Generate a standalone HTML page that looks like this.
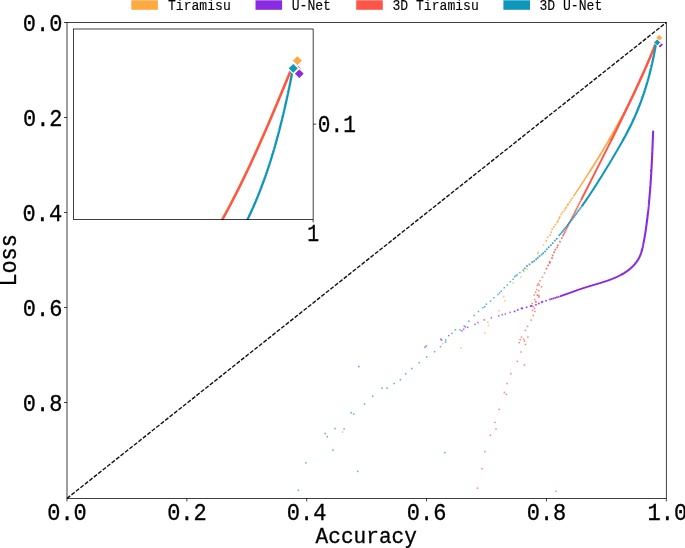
<!DOCTYPE html>
<html><head><meta charset="utf-8"><style>
html,body{margin:0;padding:0;background:#fff;overflow:hidden}
svg{display:block;will-change:transform}
</style></head><body>
<svg width="685" height="548" viewBox="0 0 685 548">
<rect width="685" height="548" fill="#fff"/>
<rect x="131.3" y="0.3" width="26.6" height="9.5" fill="#ffa940"/>
<text font-family="Liberation Mono, monospace" font-size="13.1" fill="#000" stroke="#000" stroke-width="0.100" transform="translate(167.91,9.90) scale(1.0000,1.1000)">Tiramisu</text>
<rect x="255.5" y="0.3" width="26.6" height="9.5" fill="#8a2be2"/>
<text font-family="Liberation Mono, monospace" font-size="13.1" fill="#000" stroke="#000" stroke-width="0.100" transform="translate(291.69,9.90) scale(1.0000,1.1000)">U-Net</text>
<rect x="356.2" y="0.3" width="26.6" height="9.5" fill="#ff5548"/>
<text font-family="Liberation Mono, monospace" font-size="13.1" fill="#000" stroke="#000" stroke-width="0.100" transform="translate(392.38,9.90) scale(1.0000,1.1000)">3D Tiramisu</text>
<rect x="503.4" y="0.3" width="26.6" height="9.5" fill="#0f97bb"/>
<text font-family="Liberation Mono, monospace" font-size="13.1" fill="#000" stroke="#000" stroke-width="0.100" transform="translate(539.38,9.90) scale(1.0000,1.1000)">3D U-Net</text>
<line x1="67.0" y1="498.4" x2="666.3" y2="22.5" stroke="#111" stroke-width="1.4" stroke-dasharray="4.1 1.6"/>
<path d="M654.97,44.37 L654.90,44.57 L654.83,44.76 L654.76,44.95 L654.69,45.15 L654.62,45.34 L654.55,45.53 L654.48,45.73 L654.40,45.92 L654.33,46.11 L654.26,46.31 L654.19,46.50 L654.12,46.69 L654.05,46.88 L653.98,47.08 L653.91,47.27 L653.83,47.46 L653.76,47.66 L653.69,47.85 L653.62,48.04 L653.55,48.23 L653.47,48.43 L653.40,48.62 L653.33,48.81 L653.26,49.00 L653.19,49.20 L653.11,49.39 L653.04,49.58 L652.97,49.77 L652.90,49.96 L652.82,50.16 L652.75,50.35 L652.68,50.54 L652.60,50.73 L652.53,50.92 L652.46,51.12 L652.38,51.31 L652.31,51.50 L652.24,51.69 L652.16,51.88 L652.09,52.08 L652.02,52.27 L651.94,52.46 L651.87,52.65 L651.80,52.84 L651.72,53.03 L651.65,53.23 L651.57,53.42 L651.50,53.61 L651.43,53.80 L651.35,53.99 L651.28,54.18 L651.20,54.37 L651.13,54.56 L651.05,54.76 L650.98,54.95 L650.90,55.14 L650.83,55.33 L650.75,55.52 L650.68,55.71 L650.60,55.90 L650.53,56.09 L650.45,56.28 L650.38,56.47 L650.30,56.67 L650.23,56.86 L650.15,57.05 L650.07,57.24 L650.00,57.43 L649.92,57.62 L649.85,57.81 L649.77,58.00 L649.70,58.19 L649.62,58.38 L649.54,58.57 L649.47,58.76 L649.39,58.95 L649.31,59.14 L649.24,59.33 L649.16,59.52 L649.08,59.71 L649.01,59.90 L648.93,60.09 L648.85,60.28 L648.78,60.47 L648.70,60.66 L648.62,60.85 L648.55,61.04 L648.47,61.23 L648.39,61.42 L648.31,61.61 L648.24,61.80 L648.16,61.99 L648.08,62.18 L648.00,62.37 L647.93,62.56 L647.85,62.75 L647.77,62.94 L647.69,63.13 L647.61,63.32 L647.54,63.51 L647.46,63.70 L647.38,63.89 L647.30,64.08 L647.22,64.26 L647.14,64.45 L647.06,64.64 L646.99,64.83 L646.91,65.02 L646.83,65.21 L646.75,65.40 L646.67,65.59 L646.59,65.78 L646.51,65.97 L646.43,66.15 L646.35,66.34 L646.27,66.53 L646.19,66.72 L646.12,66.91 L646.04,67.10 L645.96,67.29 L645.88,67.48 L645.80,67.66 L645.72,67.85 L645.64,68.04 L645.56,68.23 L645.48,68.42 L645.40,68.61 L645.32,68.79 L645.24,68.98 L645.16,69.17 L645.08,69.36 L644.99,69.55 L644.91,69.74 L644.83,69.92 L644.75,70.11 L644.67,70.30 L644.59,70.49 L644.51,70.68 L644.43,70.86 L644.35,71.05 L644.27,71.24 L644.19,71.43 L644.10,71.61 L644.02,71.80 L643.94,71.99 L643.86,72.18 L643.78,72.37 L643.70,72.55 L643.61,72.74 L643.53,72.93 L643.45,73.12 L643.37,73.30 L643.29,73.49 L643.20,73.68 L643.12,73.87 L643.04,74.05 L642.96,74.24 L642.88,74.43 L642.79,74.61 L642.71,74.80 L642.63,74.99 L642.55,75.18 L642.46,75.36 L642.38,75.55 L642.30,75.74 L642.21,75.92 L642.13,76.11 L642.05,76.30 L641.96,76.48 L641.88,76.67 L641.80,76.86 L641.71,77.04 L641.63,77.23 L641.55,77.42 L641.46,77.60 L641.38,77.79 L641.30,77.98 L641.21,78.16 L641.13,78.35 L641.05,78.54 L640.96,78.72 L640.88,78.91 L640.79,79.10 L640.71,79.28 L640.62,79.47 L640.54,79.65 L640.46,79.84 L640.37,80.03 L640.29,80.21 L640.20,80.40 L640.12,80.58 L640.03,80.77 L639.95,80.96 L639.86,81.14 L639.78,81.33 L639.69,81.51 L639.61,81.70 L639.52,81.89 L639.44,82.07 L639.35,82.26 L639.27,82.44 L639.18,82.63 L639.10,82.81 L639.01,83.00 L638.92,83.19 L638.84,83.37 L638.75,83.56 L638.67,83.74 L638.58,83.93 L638.50,84.11 L638.41,84.30 L638.32,84.48 L638.24,84.67 L638.15,84.85 L638.06,85.04 L637.98,85.22 L637.89,85.41 L637.81,85.59 L637.72,85.78 L637.63,85.96 L637.55,86.15 L637.46,86.33 L637.37,86.52 L637.29,86.70 L637.20,86.89 L637.11,87.07 L637.02,87.26 L636.94,87.44 L636.85,87.63 L636.76,87.81 L636.67,88.00 L636.59,88.18 L636.50,88.37 L636.41,88.55 L636.32,88.74 L636.24,88.92 L636.15,89.10 L636.06,89.29 L635.97,89.47 L635.89,89.66 L635.80,89.84 L635.71,90.03 L635.62,90.21 L635.53,90.39 L635.45,90.58 L635.36,90.76 L635.27,90.95 L635.18,91.13 L635.09,91.32 L635.00,91.50 L634.91,91.68 L634.83,91.87 L634.74,92.05 L634.65,92.23 L634.56,92.42 L634.47,92.60 L634.38,92.79 L634.29,92.97 L634.20,93.15 L634.11,93.34 L634.02,93.52 L633.94,93.70 L633.85,93.89 L633.76,94.07 L633.67,94.26 L633.58,94.44 L633.49,94.62 L633.40,94.81 L633.31,94.99 L633.22,95.17 L633.13,95.36 L633.04,95.54 L632.95,95.72 L632.86,95.91 L632.77,96.09 L632.68,96.27 L632.59,96.45 L632.50,96.64 L632.41,96.82 L632.32,97.00 L632.23,97.19 L632.14,97.37 L632.04,97.55 L631.95,97.74 L631.86,97.92 L631.77,98.10 L631.68,98.28 L631.59,98.47 L631.50,98.65 L631.41,98.83 L631.32,99.01 L631.23,99.20 L631.13,99.38 L631.04,99.56 L630.95,99.74 L630.86,99.93 L630.77,100.11 L630.68,100.29 L630.59,100.47 L630.49,100.66 L630.40,100.84 L630.31,101.02 L630.22,101.20 L630.13,101.39 L630.04,101.57 L629.94,101.75 L629.85,101.93 L629.76,102.11 L629.67,102.30 L629.57,102.48 L629.48,102.66 L629.39,102.84 L629.30,103.02 L629.20,103.21 L629.11,103.39 L629.02,103.57 L628.93,103.75 L628.83,103.93 L628.74,104.12 L628.65,104.30 L628.56,104.48 L628.46,104.66 L628.37,104.84 L628.28,105.02 L628.18,105.21 L628.09,105.39 L628.00,105.57 L627.90,105.75 L627.81,105.93 L627.72,106.11 L627.62,106.29 L627.53,106.48 L627.44,106.66 L627.34,106.84 L627.25,107.02 L627.15,107.20 L627.06,107.38 L626.97,107.56 L626.87,107.74 L626.78,107.93 L626.68,108.11 L626.59,108.29 L626.50,108.47 L626.40,108.65 L626.31,108.83 L626.21,109.01 L626.12,109.19 L626.02,109.37 L625.93,109.55 L625.84,109.74 L625.74,109.92 L625.65,110.10 L625.55,110.28 L625.46,110.46 L625.36,110.64 L625.27,110.82 L625.17,111.00 L625.08,111.18 L624.98,111.36 L624.89,111.54 L624.79,111.72 L624.70,111.90 L624.60,112.08 L624.51,112.26 L624.41,112.44 L624.31,112.62 L624.22,112.80 L624.12,112.99 L624.03,113.17 L623.93,113.35 L623.84,113.53 L623.74,113.71 L623.64,113.89 L623.55,114.07 L623.45,114.25 L623.36,114.43 L623.26,114.61 L623.16,114.79 L623.07,114.97 L622.97,115.15 L622.88,115.33 L622.78,115.51 L622.68,115.69 L622.59,115.87 L622.49,116.05 L622.39,116.22 L622.30,116.40 L622.20,116.58 L622.10,116.76 L622.01,116.94 L621.91,117.12 L621.81,117.30 L621.72,117.48 L621.62,117.66 L621.52,117.84 L621.42,118.02 L621.33,118.20 L621.23,118.38 L621.13,118.56 L621.04,118.74 L620.94,118.92 L620.84,119.10 L620.74,119.28 L620.65,119.46 L620.55,119.63 L620.45,119.81 L620.35,119.99 L620.26,120.17 L620.16,120.35 L620.06,120.53 L619.96,120.71 L619.86,120.89 L619.77,121.07 L619.67,121.25 L619.57,121.43 L619.47,121.60 L619.37,121.78 L619.27,121.96 L619.18,122.14 L619.08,122.32 L618.98,122.50 L618.88,122.68 L618.78,122.86 L618.68,123.03 L618.59,123.21 L618.49,123.39 L618.39,123.57 L618.29,123.75 L618.19,123.93 L618.09,124.11 L617.99,124.28 L617.89,124.46 L617.79,124.64 L617.70,124.82 L617.60,125.00 L617.50,125.18 L617.40,125.35 L617.30,125.53 L617.20,125.71 L617.10,125.89 L617.00,126.07 L616.90,126.25 L616.80,126.42 L616.70,126.60 L616.60,126.78 L616.50,126.96 L616.40,127.14 L616.30,127.31 L616.20,127.49 L616.10,127.67 L616.00,127.85 L615.90,128.03 L615.80,128.20 L615.70,128.38 L615.60,128.56 L615.50,128.74 L615.40,128.91 L615.30,129.09 L615.20,129.27 L615.10,129.45 L615.00,129.63 L614.90,129.80 L614.80,129.98 L614.70,130.16 L614.60,130.34 L614.50,130.51 L614.40,130.69 L614.30,130.87 L614.20,131.05 L614.10,131.22 L614.00,131.40 L613.89,131.58 L613.79,131.75 L613.69,131.93 L613.59,132.11 L613.49,132.29 L613.39,132.46 L613.29,132.64 L613.19,132.82 L613.09,133.00 L612.98,133.17 L612.88,133.35 L612.78,133.53 L612.68,133.70 L612.58,133.88 L612.48,134.06 L612.37,134.23 L612.27,134.41 L612.17,134.59 L612.07,134.77 L611.97,134.94 L611.87,135.12 L611.76,135.30 L611.66,135.47 L611.56,135.65 L611.46,135.83 L611.36,136.00 L611.25,136.18 L611.15,136.36 L611.05,136.53 L610.95,136.71 L610.84,136.89 L610.74,137.06 L610.64,137.24 L610.54,137.42 L610.43,137.59 L610.33,137.77 L610.23,137.95 L610.13,138.12 L610.02,138.30 L609.92,138.47 L609.82,138.65 L609.72,138.83 L609.61,139.00 L609.51,139.18 L609.41,139.36 L609.30,139.53 L609.20,139.71 L609.10,139.88" fill="none" stroke="#ffa940" stroke-width="2.2" stroke-linejoin="round" stroke-linecap="round"/>
<path d="M609.00,140.06 L608.89,140.24 L608.79,140.41 L608.69,140.59 L608.58,140.76 L608.48,140.94 L608.38,141.12 L608.27,141.29 L608.17,141.47 L608.06,141.64 L607.96,141.82 L607.86,142.00 L607.75,142.17 L607.65,142.35 L607.55,142.52 L607.44,142.70 L607.34,142.88 L607.24,143.05 L607.13,143.23 L607.03,143.40 L606.92,143.58 L606.82,143.75 L606.72,143.93 L606.61,144.10 L606.51,144.28 L606.40,144.46 L606.30,144.63 L606.19,144.81 L606.09,144.98 L605.99,145.16 L605.88,145.33 L605.78,145.51 L605.67,145.68 L605.57,145.86 L605.46,146.03 L605.36,146.21 L605.25,146.38 L605.15,146.56 L605.04,146.74 L604.94,146.91 L604.83,147.09 L604.73,147.26 L604.62,147.44 L604.52,147.61 L604.41,147.79 L604.31,147.96 L604.20,148.14 L604.10,148.31 L603.99,148.49 L603.89,148.66 L603.78,148.84 L603.68,149.01 L603.57,149.19 L603.47,149.36 L603.36,149.54 L603.26,149.71 L603.15,149.89 L603.05,150.06 L602.94,150.23 L602.84,150.41 L602.73,150.58 L602.62,150.76 L602.52,150.93 L602.41,151.11 L602.31,151.28 L602.20,151.46 L602.09,151.63 L601.99,151.81 L601.88,151.98 L601.78,152.16 L601.67,152.33 L601.57,152.50 L601.46,152.68 L601.35,152.85 L601.25,153.03 L601.14,153.20 L601.03,153.38 L600.93,153.55 L600.82,153.72 L600.72,153.90 L600.61,154.07 L600.50,154.25 L600.40,154.42 L600.29,154.60 L600.18,154.77 L600.08,154.94 L599.97,155.12 L599.86,155.29 L599.76,155.47 L599.65,155.64 L599.54,155.81 L599.44,155.99 L599.33,156.16 L599.22,156.34 L599.11,156.51 L599.01,156.68 L598.90,156.86 L598.79,157.03 L598.69,157.21 L598.58,157.38 L598.47,157.55 L598.37,157.73 L598.26,157.90 L598.15,158.08 L598.04,158.25 L597.94,158.42 L597.83,158.60 L597.72,158.77 L597.61,158.94 L597.51,159.12 L597.40,159.29 L597.29,159.46 L597.18,159.64 L597.08,159.81 L596.97,159.98 L596.86,160.16 L596.75,160.33 L596.65,160.51 L596.54,160.68 L596.43,160.85 L596.32,161.03 L596.21,161.20 L596.11,161.37 L596.00,161.55 L595.89,161.72 L595.78,161.89 L595.67,162.07 L595.57,162.24 L595.46,162.41 L595.35,162.59 L595.24,162.76 L595.13,162.93 L595.02,163.10 L594.92,163.28 L594.81,163.45 L594.70,163.62 L594.59,163.80 L594.48,163.97 L594.37,164.14 L594.27,164.32 L594.16,164.49 L594.05,164.66 L593.94,164.83 L593.83,165.01 L593.72,165.18 L593.61,165.35 L593.50,165.53 L593.40,165.70 L593.29,165.87 L593.18,166.04 L593.07,166.22 L592.96,166.39 L592.85,166.56 L592.74,166.74 L592.63,166.91 L592.52,167.08 L592.42,167.25 L592.31,167.43 L592.20,167.60 L592.09,167.77 L591.98,167.94 L591.87,168.12 L591.76,168.29 L591.65,168.46 L591.54,168.63 L591.43,168.81 L591.32,168.98 L591.21,169.15 L591.10,169.32 L590.99,169.50 L590.88,169.67 L590.78,169.84 L590.67,170.01 L590.56,170.19 L590.45,170.36 L590.34,170.53 L590.23,170.70 L590.12,170.87 L590.01,171.05 L589.90,171.22 L589.79,171.39 L589.68,171.56 L589.57,171.74 L589.46,171.91" fill="none" stroke="#ffa940" stroke-width="1.8" stroke-linejoin="round" stroke-linecap="round"/>
<path d="M589.35,172.08 L589.24,172.25 L589.13,172.42 L589.02,172.60 L588.91,172.77 L588.80,172.94 L588.69,173.11 L588.58,173.28 L588.47,173.46 L588.36,173.63 L588.25,173.80 L588.14,173.97 L588.03,174.14 L587.92,174.32 L587.81,174.49 L587.69,174.66 L587.58,174.83 L587.47,175.00 L587.36,175.17 L587.25,175.35 L587.14,175.52 L587.03,175.69 L586.92,175.86 L586.81,176.03 L586.70,176.20 L586.59,176.38 L586.48,176.55 L586.37,176.72 L586.26,176.89 L586.15,177.06 L586.03,177.23 L585.92,177.41 L585.81,177.58 L585.70,177.75 L585.59,177.92 L585.48,178.09 L585.37,178.26 L585.26,178.43 L585.15,178.61 L585.04,178.78 L584.92,178.95 L584.81,179.12 L584.70,179.29 L584.59,179.46 L584.48,179.63 L584.37,179.81 L584.26,179.98 L584.15,180.15 L584.03,180.32 L583.92,180.49 L583.81,180.66 L583.70,180.83 L583.59,181.00 L583.48,181.18 L583.37,181.35 L583.25,181.52 L583.14,181.69 L583.03,181.86 L582.92,182.03 L582.81,182.20 L582.70,182.37 L582.58,182.54 L582.47,182.71 L582.36,182.89 L582.25,183.06 L582.14,183.23 L582.03,183.40 L581.91,183.57 L581.80,183.74 L581.69,183.91 L581.58,184.08 L581.47,184.25 L581.35,184.42 L581.24,184.59 L581.13,184.77 L581.02,184.94 L580.91,185.11 L580.79,185.28 L580.68,185.45 L580.57,185.62 L580.46,185.79 L580.35,185.96 L580.23,186.13 L580.12,186.30 L580.01,186.47 L579.90,186.64 L579.78,186.81 L579.67,186.98 L579.56,187.15 L579.45,187.33 L579.33,187.50 L579.22,187.67 L579.11,187.84 L579.00,188.01 L578.88,188.18 L578.77,188.35 L578.66,188.52 L578.55,188.69 L578.43,188.86 L578.32,189.03 L578.21,189.20 L578.10,189.37 L577.98,189.54 L577.87,189.71 L577.76,189.88 L577.65,190.05 L577.53,190.22 L577.42,190.39 L577.31,190.56 L577.19,190.73 L577.08,190.90 L576.97,191.07 L576.86,191.24 L576.74,191.41 L576.63,191.58 L576.52,191.75 L576.40,191.92 L576.29,192.09 L576.18,192.26 L576.06,192.43 L575.95,192.60 L575.84,192.77 L575.73,192.94 L575.61,193.11 L575.50,193.28 L575.39,193.45 L575.27,193.62 L575.16,193.79 L575.05,193.96 L574.93,194.13 L574.82,194.30 L574.71,194.47 L574.59,194.64 L574.48,194.81 L574.37,194.98 L574.25,195.15 L574.14,195.32 L574.03,195.49 L573.91,195.66 L573.80,195.83" fill="none" stroke="#ffa940" stroke-width="1.45" stroke-linejoin="round" stroke-linecap="round"/>
<rect x="571.47" y="197.19" width="1.7" height="1.7" fill="#ffa940" opacity="0.88"/><rect x="570.10" y="199.22" width="1.7" height="1.7" fill="#ffa940" opacity="0.88"/><rect x="568.74" y="201.26" width="1.7" height="1.7" fill="#ffa940" opacity="0.88"/><rect x="567.36" y="203.29" width="1.7" height="1.7" fill="#ffa940" opacity="0.88"/>
<rect x="566.55" y="204.45" width="1.7" height="1.7" fill="#ffa940" opacity="0.85"/><rect x="565.35" y="206.45" width="1.7" height="1.7" fill="#ffa940" opacity="0.85"/><rect x="564.55" y="207.65" width="1.7" height="1.7" fill="#ffa940" opacity="0.85"/><rect x="563.65" y="209.55" width="1.7" height="1.7" fill="#ffa940" opacity="0.85"/><rect x="561.85" y="211.45" width="1.7" height="1.7" fill="#ffa940" opacity="0.85"/><rect x="560.45" y="213.45" width="1.7" height="1.7" fill="#ffa940" opacity="0.85"/><rect x="558.95" y="216.15" width="1.7" height="1.7" fill="#ffa940" opacity="0.85"/><rect x="558.35" y="217.45" width="1.7" height="1.7" fill="#ffa940" opacity="0.85"/><rect x="557.25" y="219.65" width="1.7" height="1.7" fill="#ffa940" opacity="0.85"/><rect x="556.35" y="221.35" width="1.7" height="1.7" fill="#ffa940" opacity="0.85"/><rect x="554.55" y="223.75" width="1.7" height="1.7" fill="#ffa940" opacity="0.85"/><rect x="553.15" y="226.05" width="1.7" height="1.7" fill="#ffa940" opacity="0.85"/><rect x="551.35" y="228.35" width="1.7" height="1.7" fill="#ffa940" opacity="0.85"/><rect x="550.25" y="231.35" width="1.7" height="1.7" fill="#ffa940" opacity="0.85"/><rect x="549.35" y="234.25" width="1.7" height="1.7" fill="#ffa940" opacity="0.85"/><rect x="546.75" y="236.45" width="1.7" height="1.7" fill="#ffa940" opacity="0.85"/><rect x="545.35" y="240.05" width="1.7" height="1.7" fill="#ffa940" opacity="0.85"/>
<rect x="542.75" y="244.45" width="1.5" height="1.5" fill="#ffa940" opacity="0.72"/><rect x="537.55" y="251.55" width="1.5" height="1.5" fill="#ffa940" opacity="0.72"/><rect x="537.05" y="252.75" width="1.5" height="1.5" fill="#ffa940" opacity="0.72"/><rect x="531.45" y="261.05" width="1.5" height="1.5" fill="#ffa940" opacity="0.72"/><rect x="526.45" y="268.25" width="1.5" height="1.5" fill="#ffa940" opacity="0.72"/><rect x="523.05" y="270.75" width="1.5" height="1.5" fill="#ffa940" opacity="0.72"/><rect x="520.15" y="276.25" width="1.5" height="1.5" fill="#ffa940" opacity="0.72"/><rect x="512.25" y="282.15" width="1.5" height="1.5" fill="#ffa940" opacity="0.72"/><rect x="503.05" y="295.85" width="1.5" height="1.5" fill="#ffa940" opacity="0.72"/><rect x="504.25" y="299.95" width="1.5" height="1.5" fill="#ffa940" opacity="0.72"/><rect x="498.25" y="310.05" width="1.5" height="1.5" fill="#ffa940" opacity="0.72"/><rect x="487.05" y="321.45" width="1.5" height="1.5" fill="#ffa940" opacity="0.72"/><rect x="487.65" y="324.65" width="1.5" height="1.5" fill="#ffa940" opacity="0.72"/><rect x="484.25" y="332.35" width="1.5" height="1.5" fill="#ffa940" opacity="0.72"/><rect x="460.25" y="347.25" width="1.5" height="1.5" fill="#ffa940" opacity="0.72"/><rect x="441.85" y="342.85" width="1.5" height="1.5" fill="#ffa940" opacity="0.72"/><rect x="341.75" y="431.35" width="1.5" height="1.5" fill="#ffa940" opacity="0.72"/>
<path d="M653.10,131.60 L653.09,131.86 L653.08,132.11 L653.07,132.36 L653.06,132.62 L653.05,132.87 L653.04,133.12 L653.03,133.38 L653.03,133.63 L653.02,133.88 L653.01,134.14 L653.00,134.39 L652.99,134.65 L652.98,134.90 L652.97,135.15 L652.96,135.41 L652.95,135.66 L652.94,135.91 L652.93,136.17 L652.92,136.42 L652.91,136.67 L652.90,136.93 L652.90,137.18 L652.89,137.44 L652.88,137.69 L652.87,137.94 L652.86,138.20 L652.85,138.45 L652.84,138.70 L652.83,138.96 L652.82,139.21 L652.81,139.47 L652.80,139.72 L652.79,139.97 L652.78,140.23 L652.77,140.48 L652.76,140.73 L652.75,140.99 L652.74,141.24 L652.73,141.50 L652.72,141.75 L652.71,142.00 L652.70,142.26 L652.69,142.51 L652.68,142.77 L652.67,143.02 L652.66,143.27 L652.65,143.53 L652.64,143.78 L652.63,144.03 L652.62,144.29 L652.61,144.54 L652.60,144.80 L652.59,145.05 L652.58,145.30 L652.57,145.56 L652.56,145.81 L652.55,146.06 L652.54,146.32 L652.53,146.57 L652.52,146.83 L652.51,147.08 L652.50,147.33 L652.49,147.59 L652.48,147.84 L652.47,148.10 L652.46,148.35 L652.45,148.60 L652.44,148.86 L652.43,149.11 L652.41,149.37 L652.40,149.62 L652.39,149.87 L652.38,150.13 L652.37,150.38 L652.36,150.63 L652.35,150.89 L652.34,151.14 L652.33,151.40 L652.32,151.65 L652.31,151.90 L652.29,152.16 L652.28,152.41 L652.27,152.67 L652.26,152.92 L652.25,153.17 L652.24,153.43 L652.23,153.68 L652.22,153.94 L652.20,154.19 L652.19,154.44 L652.18,154.70 L652.17,154.95 L652.16,155.20 L652.15,155.46 L652.14,155.71 L652.12,155.97 L652.11,156.22 L652.10,156.47 L652.09,156.73 L652.08,156.98 L652.07,157.24 L652.05,157.49 L652.04,157.74 L652.03,158.00 L652.02,158.25 L652.01,158.51 L651.99,158.76 L651.98,159.01 L651.97,159.27 L651.96,159.52 L651.94,159.78 L651.93,160.03 L651.92,160.28 L651.91,160.54 L651.90,160.79 L651.88,161.04 L651.87,161.30 L651.86,161.55 L651.85,161.81 L651.83,162.06 L651.82,162.31 L651.81,162.57 L651.79,162.82 L651.78,163.08 L651.77,163.33 L651.76,163.58 L651.74,163.84 L651.73,164.09 L651.72,164.35 L651.70,164.60 L651.69,164.85 L651.68,165.11 L651.66,165.36 L651.65,165.61 L651.64,165.87 L651.62,166.12 L651.61,166.38 L651.60,166.63 L651.58,166.88 L651.57,167.14 L651.55,167.39 L651.54,167.65 L651.53,167.90 L651.51,168.15 L651.50,168.41 L651.49,168.66 L651.47,168.92 L651.46,169.17 L651.44,169.42 L651.43,169.68 L651.41,169.93 L651.40,170.18 L651.39,170.44 L651.37,170.69 L651.36,170.95 L651.34,171.20 L651.33,171.45 L651.31,171.71 L651.30,171.96 L651.28,172.21 L651.27,172.47 L651.25,172.72 L651.24,172.98 L651.22,173.23 L651.21,173.48 L651.19,173.74 L651.18,173.99 L651.16,174.24 L651.15,174.50 L651.13,174.75 L651.12,175.01 L651.10,175.26 L651.09,175.51 L651.07,175.77 L651.05,176.02 L651.04,176.27 L651.02,176.53 L651.01,176.78 L650.99,177.04 L650.97,177.29 L650.96,177.54 L650.94,177.80 L650.93,178.05 L650.91,178.30 L650.89,178.56 L650.88,178.81 L650.86,179.07 L650.84,179.32 L650.83,179.57 L650.81,179.83 L650.79,180.08 L650.78,180.33 L650.76,180.59 L650.74,180.84 L650.73,181.09 L650.71,181.35 L650.69,181.60 L650.67,181.85 L650.66,182.11 L650.64,182.36 L650.62,182.62 L650.60,182.87 L650.59,183.12 L650.57,183.38 L650.55,183.63 L650.53,183.88 L650.52,184.14 L650.50,184.39 L650.48,184.64 L650.46,184.90 L650.44,185.15 L650.43,185.40 L650.41,185.66 L650.39,185.91 L650.37,186.16 L650.35,186.42 L650.33,186.67 L650.31,186.92 L650.30,187.18 L650.28,187.43 L650.26,187.68 L650.24,187.94 L650.22,188.19 L650.20,188.45 L650.18,188.70 L650.16,188.95 L650.14,189.21 L650.12,189.46 L650.10,189.71 L650.08,189.97 L650.06,190.22 L650.04,190.47 L650.03,190.73 L650.01,190.98 L649.99,191.23 L649.97,191.48 L649.94,191.74 L649.92,191.99 L649.90,192.24 L649.88,192.50 L649.86,192.75 L649.84,193.00 L649.82,193.26 L649.80,193.51 L649.78,193.76 L649.76,194.02 L649.74,194.27 L649.72,194.52 L649.70,194.78 L649.68,195.03 L649.65,195.28 L649.63,195.54 L649.61,195.79 L649.59,196.04 L649.57,196.29 L649.55,196.55 L649.52,196.80 L649.50,197.05 L649.48,197.31 L649.46,197.56 L649.44,197.81 L649.41,198.07 L649.39,198.32 L649.37,198.57 L649.35,198.82 L649.32,199.08 L649.30,199.33 L649.28,199.58 L649.25,199.84 L649.23,200.09 L649.21,200.34 L649.19,200.60 L649.16,200.85 L649.14,201.10 L649.12,201.35 L649.09,201.61 L649.07,201.86 L649.04,202.11 L649.02,202.37 L649.00,202.62 L648.97,202.87 L648.95,203.12 L648.92,203.38 L648.90,203.63 L648.88,203.88 L648.85,204.13 L648.83,204.39 L648.80,204.64 L648.78,204.89 L648.75,205.14 L648.73,205.40 L648.70,205.65 L648.68,205.90 L648.65,206.16 L648.63,206.41 L648.60,206.66 L648.58,206.91 L648.55,207.17 L648.52,207.42 L648.50,207.67 L648.47,207.92 L648.45,208.18 L648.42,208.43 L648.39,208.68 L648.37,208.93 L648.34,209.19 L648.31,209.44 L648.29,209.69 L648.26,209.94 L648.23,210.19 L648.21,210.45 L648.18,210.70 L648.15,210.95 L648.13,211.20 L648.10,211.46 L648.07,211.71 L648.04,211.96 L648.02,212.21 L647.99,212.47 L647.96,212.72 L647.93,212.97 L647.90,213.22 L647.88,213.47 L647.85,213.73 L647.82,213.98 L647.79,214.23 L647.76,214.48 L647.73,214.73 L647.70,214.99 L647.68,215.24 L647.65,215.49 L647.62,215.74 L647.59,215.99 L647.56,216.25 L647.53,216.50 L647.50,216.75 L647.47,217.00 L647.44,217.25 L647.41,217.51 L647.38,217.76 L647.35,218.01 L647.32,218.26 L647.29,218.51 L647.26,218.77 L647.23,219.02 L647.20,219.27 L647.17,219.52 L647.14,219.77 L647.10,220.02 L647.07,220.28 L647.04,220.53 L647.01,220.78 L646.98,221.03 L646.95,221.28 L646.92,221.53 L646.88,221.79 L646.85,222.04 L646.82,222.29 L646.79,222.54 L646.76,222.79 L646.72,223.04 L646.69,223.29 L646.66,223.55 L646.62,223.80 L646.59,224.05 L646.56,224.30 L646.53,224.55 L646.49,224.80 L646.46,225.05 L646.42,225.31 L646.39,225.56 L646.36,225.81 L646.32,226.06 L646.29,226.31 L646.25,226.56 L646.22,226.81 L646.18,227.07 L646.15,227.32 L646.11,227.57 L646.08,227.82 L646.04,228.07 L646.01,228.32 L645.97,228.57 L645.93,228.82 L645.90,229.08 L645.86,229.33 L645.83,229.58 L645.79,229.83 L645.75,230.08 L645.71,230.33 L645.68,230.58 L645.64,230.83 L645.60,231.08 L645.56,231.34 L645.52,231.59 L645.49,231.84 L645.45,232.09 L645.41,232.34 L645.37,232.59 L645.33,232.84 L645.29,233.09 L645.25,233.34 L645.21,233.59 L645.17,233.85 L645.13,234.10 L645.09,234.35 L645.05,234.60 L645.01,234.85 L644.97,235.10 L644.92,235.35 L644.88,235.60 L644.84,235.85 L644.80,236.10 L644.75,236.36 L644.71,236.61 L644.67,236.86 L644.62,237.11 L644.58,237.36 L644.54,237.61 L644.49,237.86 L644.45,238.11 L644.40,238.36 L644.36,238.61 L644.31,238.87 L644.27,239.12 L644.22,239.37 L644.17,239.62 L644.13,239.87 L644.08,240.12 L644.03,240.37 L643.98,240.62 L643.94,240.87 L643.89,241.12 L643.84,241.37 L643.79,241.63 L643.74,241.88 L643.69,242.13 L643.64,242.38 L643.59,242.63 L643.54,242.88 L643.49,243.13 L643.44,243.38 L643.39,243.63 L643.34,243.88 L643.29,244.14 L643.23,244.39 L643.18,244.64 L643.13,244.89 L643.07,245.14 L643.02,245.39 L642.97,245.64 L642.91,245.89 L642.86,246.14 L642.80,246.39 L642.75,246.65 L642.69,246.90 L642.63,247.15 L642.58,247.40 L642.52,247.65 L642.46,247.90 L642.40,248.15 L642.34,248.40 L642.28,248.65 L642.22,248.90 L642.16,249.15 L642.10,249.40 L642.03,249.65 L641.97,249.89 L641.90,250.14 L641.84,250.39 L641.77,250.64 L641.70,250.88 L641.63,251.13 L641.56,251.38 L641.49,251.62 L641.42,251.87 L641.34,252.11 L641.27,252.36 L641.19,252.60 L641.11,252.84 L641.03,253.08 L640.95,253.33 L640.87,253.57 L640.79,253.81 L640.70,254.05 L640.61,254.29 L640.53,254.52 L640.44,254.76 L640.34,255.00 L640.25,255.23 L640.16,255.47 L640.06,255.70 L639.96,255.94 L639.86,256.17 L639.76,256.40 L639.66,256.63 L639.55,256.86 L639.44,257.09 L639.33,257.32 L639.22,257.54 L639.11,257.77 L638.99,257.99 L638.87,258.22 L638.75,258.44 L638.63,258.66 L638.51,258.88 L638.38,259.10 L638.26,259.32 L638.13,259.54 L637.99,259.75 L637.86,259.97 L637.73,260.18 L637.59,260.39 L637.45,260.60 L637.31,260.82 L637.17,261.02 L637.03,261.23 L636.88,261.44 L636.73,261.65 L636.59,261.85 L636.44,262.06 L636.28,262.26 L636.13,262.46 L635.98,262.66 L635.82,262.86 L635.66,263.06 L635.51,263.26 L635.35,263.45 L635.18,263.65 L635.02,263.84 L634.86,264.03 L634.69,264.23 L634.53,264.42 L634.36,264.61 L634.19,264.79 L634.02,264.98 L633.85,265.17 L633.68,265.35 L633.50,265.53 L633.33,265.72 L633.15,265.90 L632.98,266.08 L632.80,266.26 L632.62,266.43 L632.44,266.61 L632.26,266.79 L632.08,266.96 L631.90,267.13 L631.71,267.30 L631.53,267.47 L631.35,267.64 L631.16,267.81 L630.98,267.98 L630.79,268.15 L630.60,268.31 L630.41,268.47 L630.22,268.64 L630.03,268.80 L629.84,268.96 L629.65,269.12 L629.46,269.28 L629.26,269.43 L629.07,269.59 L628.87,269.74 L628.68,269.90 L628.48,270.05 L628.28,270.20 L628.09,270.35 L627.89,270.50 L627.69,270.65 L627.49,270.80 L627.29,270.94 L627.09,271.09 L626.88,271.23 L626.68,271.38 L626.48,271.52 L626.27,271.66 L626.07,271.80 L625.86,271.94 L625.65,272.08 L625.45,272.22 L625.24,272.36 L625.03,272.49 L624.82,272.63 L624.61,272.76 L624.40,272.89 L624.19,273.02 L623.98,273.16 L623.77,273.29 L623.55,273.42 L623.34,273.54 L623.13,273.67 L622.91,273.80 L622.69,273.92 L622.48,274.05 L622.26,274.17 L622.04,274.30" fill="none" stroke="#8a2be2" stroke-width="2.1" stroke-linejoin="round" stroke-linecap="round"/>
<rect x="557.77" y="295.90" width="1.75" height="1.75" fill="#8a2be2" opacity="0.88"/><rect x="556.07" y="296.45" width="1.75" height="1.75" fill="#8a2be2" opacity="0.88"/><rect x="554.35" y="297.00" width="1.75" height="1.75" fill="#8a2be2" opacity="0.88"/><rect x="552.62" y="297.53" width="1.75" height="1.75" fill="#8a2be2" opacity="0.88"/><rect x="550.86" y="298.04" width="1.75" height="1.75" fill="#8a2be2" opacity="0.88"/><rect x="549.09" y="298.55" width="1.75" height="1.75" fill="#8a2be2" opacity="0.88"/>
<path d="M622.48,274.05 L622.26,274.17 L622.04,274.30 L621.83,274.42 L621.61,274.54 L621.39,274.66 L621.17,274.78 L620.95,274.90 L620.73,275.02 L620.51,275.14 L620.29,275.26 L620.06,275.37 L619.84,275.49 L619.62,275.60 L619.39,275.72 L619.17,275.83 L618.94,275.94 L618.72,276.05 L618.49,276.16 L618.26,276.27 L618.04,276.38 L617.81,276.49 L617.58,276.60 L617.35,276.71 L617.12,276.81 L616.90,276.92 L616.67,277.02 L616.44,277.13 L616.20,277.23 L615.97,277.34 L615.74,277.44 L615.51,277.54 L615.28,277.64 L615.04,277.74 L614.81,277.84 L614.58,277.94 L614.34,278.04 L614.11,278.14 L613.87,278.24 L613.64,278.34 L613.40,278.43 L613.17,278.53 L612.93,278.62 L612.69,278.72 L612.46,278.81 L612.22,278.91 L611.98,279.00 L611.74,279.09 L611.50,279.19 L611.27,279.28 L611.03,279.37 L610.79,279.46 L610.55,279.55 L610.31,279.64 L610.07,279.73 L609.83,279.82 L609.58,279.91 L609.34,279.99 L609.10,280.08 L608.86,280.17 L608.62,280.25 L608.38,280.34 L608.13,280.43 L607.89,280.51 L607.65,280.60 L607.40,280.68 L607.16,280.76 L606.92,280.85 L606.67,280.93 L606.43,281.01 L606.18,281.10 L605.94,281.18 L605.69,281.26 L605.45,281.34 L605.20,281.42 L604.96,281.50 L604.71,281.58 L604.47,281.66 L604.22,281.74 L603.97,281.82 L603.73,281.90 L603.48,281.98 L603.23,282.06 L602.99,282.14 L602.74,282.22 L602.49,282.30 L602.25,282.37 L602.00,282.45 L601.75,282.53 L601.50,282.60 L601.26,282.68 L601.01,282.76 L600.76,282.83 L600.51,282.91 L600.27,282.99 L600.02,283.06 L599.77,283.14 L599.52,283.21 L599.27,283.29 L599.02,283.36 L598.78,283.44 L598.53,283.51 L598.28,283.59 L598.03,283.66 L597.78,283.73 L597.53,283.81 L597.28,283.88 L597.04,283.96 L596.79,284.03 L596.54,284.10 L596.29,284.18 L596.04,284.25 L595.79,284.32 L595.55,284.40 L595.30,284.47 L595.05,284.54 L594.80,284.62 L594.55,284.69 L594.30,284.76 L594.05,284.84 L593.81,284.91 L593.56,284.98 L593.31,285.06 L593.06,285.13 L592.81,285.20 L592.57,285.28 L592.32,285.35 L592.07,285.42 L591.82,285.50 L591.58,285.57 L591.33,285.64 L591.08,285.72 L590.84,285.79 L590.59,285.86 L590.34,285.94 L590.10,286.01 L589.85,286.08 L589.60,286.16 L589.36,286.23 L589.11,286.31 L588.86,286.38 L588.62,286.45 L588.37,286.53 L588.13,286.60 L587.88,286.68 L587.64,286.75 L587.39,286.83 L587.15,286.90 L586.91,286.98 L586.66,287.05 L586.42,287.13 L586.17,287.21 L585.93,287.28 L585.69,287.36 L585.44,287.44 L585.20,287.51 L584.96,287.59 L584.72,287.67 L584.48,287.74 L584.23,287.82 L583.99,287.90 L583.75,287.98 L583.51,288.06 L583.27,288.14 L583.03,288.21 L582.79,288.29 L582.55,288.37 L582.31,288.45 L582.07,288.53 L581.83,288.61 L581.59,288.69 L581.36,288.77 L581.12,288.85 L580.88,288.93 L580.64,289.02 L580.40,289.10 L580.17,289.18 L579.93,289.26 L579.69,289.34 L579.45,289.42 L579.22,289.51 L578.98,289.59 L578.74,289.67 L578.51,289.75 L578.27,289.83 L578.03,289.92 L577.80,290.00 L577.56,290.08 L577.33,290.17 L577.09,290.25 L576.85,290.33 L576.62,290.42 L576.38,290.50 L576.15,290.58 L575.91,290.67 L575.68,290.75 L575.44,290.84 L575.21,290.92 L574.97,291.00 L574.74,291.09 L574.50,291.17 L574.27,291.26 L574.03,291.34 L573.80,291.42 L573.56,291.51 L573.33,291.59 L573.09,291.68 L572.86,291.76 L572.63,291.85 L572.39,291.93 L572.16,292.02 L571.92,292.10 L571.69,292.19 L571.45,292.27 L571.22,292.36 L570.98,292.44 L570.75,292.53 L570.51,292.61 L570.28,292.70 L570.05,292.78 L569.81,292.87 L569.58,292.95 L569.34,293.04 L569.11,293.12 L568.87,293.21 L568.64,293.29 L568.40,293.38 L568.17,293.46 L567.93,293.55 L567.70,293.63 L567.46,293.71 L567.23,293.80 L566.99,293.88 L566.75,293.97 L566.52,294.05 L566.28,294.14 L566.05,294.22 L565.81,294.31 L565.57,294.39 L565.34,294.47 L565.10,294.56 L564.87,294.64 L564.63,294.72 L564.39,294.81 L564.15,294.89 L563.92,294.98 L563.68,295.06 L563.44,295.14 L563.20,295.22 L562.97,295.31 L562.73,295.39 L562.49,295.47 L562.25,295.56 L562.01,295.64 L561.77,295.72 L561.53,295.80 L561.30,295.88 L561.06,295.97 L560.82,296.05 L560.58,296.13" fill="none" stroke="#8a2be2" stroke-width="1.85" stroke-linejoin="round" stroke-linecap="round"/>
<rect x="545.15" y="299.85" width="1.7" height="1.7" fill="#8a2be2" opacity="0.85"/><rect x="541.55" y="300.85" width="1.7" height="1.7" fill="#8a2be2" opacity="0.85"/><rect x="540.95" y="301.45" width="1.7" height="1.7" fill="#8a2be2" opacity="0.85"/><rect x="538.05" y="302.65" width="1.7" height="1.7" fill="#8a2be2" opacity="0.85"/><rect x="535.15" y="303.85" width="1.7" height="1.7" fill="#8a2be2" opacity="0.85"/><rect x="530.75" y="304.95" width="1.7" height="1.7" fill="#8a2be2" opacity="0.85"/><rect x="529.85" y="305.25" width="1.7" height="1.7" fill="#8a2be2" opacity="0.85"/><rect x="525.75" y="306.45" width="1.7" height="1.7" fill="#8a2be2" opacity="0.85"/><rect x="521.35" y="307.65" width="1.7" height="1.7" fill="#8a2be2" opacity="0.85"/><rect x="520.75" y="307.35" width="1.7" height="1.7" fill="#8a2be2" opacity="0.85"/><rect x="516.95" y="309.05" width="1.7" height="1.7" fill="#8a2be2" opacity="0.85"/><rect x="513.75" y="310.55" width="1.7" height="1.7" fill="#8a2be2" opacity="0.85"/>
<rect x="509.25" y="311.65" width="1.5" height="1.5" fill="#8a2be2" opacity="0.72"/><rect x="504.55" y="313.25" width="1.5" height="1.5" fill="#8a2be2" opacity="0.72"/><rect x="501.45" y="313.95" width="1.5" height="1.5" fill="#8a2be2" opacity="0.72"/><rect x="497.95" y="315.15" width="1.5" height="1.5" fill="#8a2be2" opacity="0.72"/><rect x="490.55" y="317.05" width="1.5" height="1.5" fill="#8a2be2" opacity="0.72"/><rect x="483.55" y="319.15" width="1.5" height="1.5" fill="#8a2be2" opacity="0.72"/><rect x="477.25" y="321.85" width="1.5" height="1.5" fill="#8a2be2" opacity="0.72"/><rect x="474.25" y="323.55" width="1.5" height="1.5" fill="#8a2be2" opacity="0.72"/><rect x="466.95" y="326.55" width="1.5" height="1.5" fill="#8a2be2" opacity="0.72"/><rect x="464.65" y="326.15" width="1.5" height="1.5" fill="#8a2be2" opacity="0.72"/><rect x="462.95" y="328.45" width="1.5" height="1.5" fill="#8a2be2" opacity="0.72"/><rect x="461.15" y="330.25" width="1.5" height="1.5" fill="#8a2be2" opacity="0.72"/><rect x="447.95" y="334.85" width="1.5" height="1.5" fill="#8a2be2" opacity="0.72"/><rect x="440.15" y="338.45" width="1.5" height="1.5" fill="#8a2be2" opacity="0.72"/><rect x="440.85" y="339.55" width="1.5" height="1.5" fill="#8a2be2" opacity="0.72"/><rect x="425.65" y="345.15" width="1.5" height="1.5" fill="#8a2be2" opacity="0.72"/><rect x="424.25" y="346.55" width="1.5" height="1.5" fill="#8a2be2" opacity="0.72"/><rect x="357.95" y="365.85" width="1.5" height="1.5" fill="#8a2be2" opacity="0.72"/>
<path d="M655.74,44.11 L655.65,44.33 L655.56,44.55 L655.46,44.77 L655.37,44.99 L655.28,45.20 L655.19,45.42 L655.10,45.64 L655.00,45.86 L654.91,46.08 L654.82,46.29 L654.73,46.51 L654.64,46.73 L654.54,46.95 L654.45,47.16 L654.36,47.38 L654.27,47.60 L654.18,47.82 L654.08,48.04 L653.99,48.25 L653.90,48.47 L653.81,48.69 L653.71,48.91 L653.62,49.12 L653.53,49.34 L653.44,49.56 L653.34,49.78 L653.25,49.99 L653.16,50.21 L653.06,50.43 L652.97,50.65 L652.88,50.86 L652.79,51.08 L652.69,51.30 L652.60,51.52 L652.51,51.73 L652.41,51.95 L652.32,52.17 L652.23,52.39 L652.13,52.60 L652.04,52.82 L651.95,53.04 L651.85,53.26 L651.76,53.47 L651.67,53.69 L651.57,53.91 L651.48,54.13 L651.39,54.34 L651.29,54.56 L651.20,54.78 L651.11,54.99 L651.01,55.21 L650.92,55.43 L650.83,55.65 L650.73,55.86 L650.64,56.08 L650.54,56.30 L650.45,56.51 L650.36,56.73 L650.26,56.95 L650.17,57.16 L650.07,57.38 L649.98,57.60 L649.89,57.82 L649.79,58.03 L649.70,58.25 L649.60,58.47 L649.51,58.68 L649.41,58.90 L649.32,59.12 L649.22,59.33 L649.13,59.55 L649.04,59.77 L648.94,59.98 L648.85,60.20 L648.75,60.42 L648.66,60.63 L648.56,60.85 L648.47,61.07 L648.37,61.28 L648.28,61.50 L648.18,61.72 L648.09,61.93 L647.99,62.15 L647.90,62.37 L647.80,62.58 L647.71,62.80 L647.61,63.02 L647.52,63.23 L647.42,63.45 L647.33,63.67 L647.23,63.88 L647.14,64.10 L647.04,64.32 L646.95,64.53 L646.85,64.75 L646.75,64.97 L646.66,65.18 L646.56,65.40 L646.47,65.61 L646.37,65.83 L646.28,66.05 L646.18,66.26 L646.09,66.48 L645.99,66.70 L645.89,66.91 L645.80,67.13 L645.70,67.34 L645.61,67.56 L645.51,67.78 L645.41,67.99 L645.32,68.21 L645.22,68.43 L645.13,68.64 L645.03,68.86 L644.93,69.07 L644.84,69.29 L644.74,69.51 L644.64,69.72 L644.55,69.94 L644.45,70.15 L644.36,70.37 L644.26,70.59 L644.16,70.80 L644.07,71.02 L643.97,71.23 L643.87,71.45 L643.78,71.67 L643.68,71.88 L643.58,72.10 L643.49,72.31 L643.39,72.53 L643.29,72.74 L643.20,72.96 L643.10,73.18 L643.00,73.39 L642.91,73.61 L642.81,73.82 L642.71,74.04 L642.61,74.25 L642.52,74.47 L642.42,74.69 L642.32,74.90 L642.23,75.12 L642.13,75.33 L642.03,75.55 L641.93,75.76 L641.84,75.98 L641.74,76.20 L641.64,76.41 L641.54,76.63 L641.45,76.84 L641.35,77.06 L641.25,77.27 L641.15,77.49 L641.06,77.70 L640.96,77.92 L640.86,78.13 L640.76,78.35 L640.67,78.57 L640.57,78.78 L640.47,79.00 L640.37,79.21 L640.27,79.43 L640.18,79.64 L640.08,79.86 L639.98,80.07 L639.88,80.29 L639.78,80.50 L639.69,80.72 L639.59,80.93 L639.49,81.15 L639.39,81.36 L639.29,81.58 L639.20,81.79 L639.10,82.01 L639.00,82.22 L638.90,82.44 L638.80,82.65 L638.70,82.87 L638.61,83.09 L638.51,83.30 L638.41,83.52 L638.31,83.73 L638.21,83.95 L638.11,84.16 L638.01,84.38 L637.92,84.59 L637.82,84.81 L637.72,85.02 L637.62,85.24 L637.52,85.45 L637.42,85.67 L637.32,85.88 L637.22,86.09 L637.12,86.31 L637.03,86.52 L636.93,86.74 L636.83,86.95 L636.73,87.17 L636.63,87.38 L636.53,87.60 L636.43,87.81 L636.33,88.03 L636.23,88.24 L636.13,88.46 L636.03,88.67 L635.94,88.89 L635.84,89.10 L635.74,89.32 L635.64,89.53 L635.54,89.75 L635.44,89.96 L635.34,90.17 L635.24,90.39 L635.14,90.60 L635.04,90.82 L634.94,91.03 L634.84,91.25 L634.74,91.46 L634.64,91.68 L634.54,91.89 L634.44,92.11 L634.34,92.32 L634.24,92.53 L634.14,92.75 L634.04,92.96 L633.94,93.18 L633.84,93.39 L633.74,93.61 L633.64,93.82 L633.54,94.04 L633.44,94.25 L633.34,94.46 L633.24,94.68 L633.14,94.89 L633.04,95.11 L632.94,95.32 L632.84,95.54 L632.74,95.75 L632.64,95.96 L632.54,96.18 L632.44,96.39 L632.34,96.61 L632.24,96.82 L632.14,97.04 L632.04,97.25 L631.94,97.46 L631.84,97.68 L631.74,97.89 L631.64,98.11 L631.54,98.32 L631.43,98.53 L631.33,98.75 L631.23,98.96 L631.13,99.18 L631.03,99.39 L630.93,99.60 L630.83,99.82 L630.73,100.03 L630.63,100.25 L630.53,100.46 L630.43,100.67 L630.33,100.89 L630.22,101.10 L630.12,101.32 L630.02,101.53 L629.92,101.74 L629.82,101.96 L629.72,102.17 L629.62,102.39 L629.52,102.60 L629.42,102.81 L629.31,103.03 L629.21,103.24 L629.11,103.46 L629.01,103.67 L628.91,103.88 L628.81,104.10 L628.71,104.31 L628.61,104.52 L628.50,104.74 L628.40,104.95 L628.30,105.17 L628.20,105.38 L628.10,105.59 L628.00,105.81 L627.89,106.02 L627.79,106.23 L627.69,106.45 L627.59,106.66 L627.49,106.87 L627.39,107.09 L627.28,107.30 L627.18,107.52 L627.08,107.73 L626.98,107.94 L626.88,108.16 L626.78,108.37 L626.67,108.58 L626.57,108.80 L626.47,109.01 L626.37,109.22 L626.27,109.44 L626.16,109.65 L626.06,109.86 L625.96,110.08 L625.86,110.29 L625.75,110.50 L625.65,110.72 L625.55,110.93 L625.45,111.14 L625.35,111.36 L625.24,111.57 L625.14,111.78 L625.04,112.00 L624.94,112.21 L624.83,112.42 L624.73,112.64 L624.63,112.85 L624.53,113.06 L624.42,113.28 L624.32,113.49 L624.22,113.70 L624.12,113.92 L624.01,114.13 L623.91,114.34 L623.81,114.56 L623.71,114.77 L623.60,114.98 L623.50,115.20 L623.40,115.41 L623.30,115.62 L623.19,115.84 L623.09,116.05 L622.99,116.26 L622.88,116.48 L622.78,116.69 L622.68,116.90 L622.58,117.11 L622.47,117.33 L622.37,117.54 L622.27,117.75 L622.16,117.97 L622.06,118.18 L621.96,118.39 L621.85,118.61 L621.75,118.82 L621.65,119.03 L621.55,119.24 L621.44,119.46 L621.34,119.67 L621.24,119.88 L621.13,120.10 L621.03,120.31 L620.93,120.52 L620.82,120.74 L620.72,120.95 L620.62,121.16 L620.51,121.37 L620.41,121.59 L620.31,121.80 L620.20,122.01 L620.10,122.22 L620.00,122.44 L619.89,122.65 L619.79,122.86 L619.69,123.08 L619.58,123.29 L619.48,123.50 L619.37,123.71 L619.27,123.93 L619.17,124.14 L619.06,124.35 L618.96,124.57 L618.86,124.78 L618.75,124.99 L618.65,125.20 L618.55,125.42 L618.44,125.63 L618.34,125.84 L618.23,126.05 L618.13,126.27 L618.03,126.48 L617.92,126.69 L617.82,126.90 L617.71,127.12 L617.61,127.33 L617.51,127.54 L617.40,127.75 L617.30,127.97 L617.19,128.18 L617.09,128.39 L616.99,128.61 L616.88,128.82 L616.78,129.03 L616.67,129.24 L616.57,129.46 L616.47,129.67 L616.36,129.88 L616.26,130.09 L616.15,130.30 L616.05,130.52 L615.95,130.73 L615.84,130.94 L615.74,131.15 L615.63,131.37 L615.53,131.58 L615.42,131.79 L615.32,132.00 L615.21,132.22 L615.11,132.43 L615.01,132.64 L614.90,132.85 L614.80,133.07 L614.69,133.28 L614.59,133.49 L614.48,133.70 L614.38,133.92 L614.27,134.13 L614.17,134.34 L614.07,134.55 L613.96,134.76 L613.86,134.98 L613.75,135.19 L613.65,135.40 L613.54,135.61 L613.44,135.83 L613.33,136.04 L613.23,136.25 L613.12,136.46 L613.02,136.67 L612.91,136.89 L612.81,137.10 L612.70,137.31 L612.60,137.52 L612.49,137.74 L612.39,137.95 L612.28,138.16 L612.18,138.37 L612.07,138.58 L611.97,138.80 L611.86,139.01 L611.76,139.22 L611.65,139.43 L611.55,139.64 L611.44,139.86" fill="none" stroke="#ff5548" stroke-width="2.3" stroke-linejoin="round" stroke-linecap="round"/>
<path d="M611.34,140.07 L611.23,140.28 L611.13,140.49 L611.02,140.70 L610.92,140.92 L610.81,141.13 L610.71,141.34 L610.60,141.55 L610.50,141.76 L610.39,141.98 L610.29,142.19 L610.18,142.40 L610.08,142.61 L609.97,142.82 L609.87,143.04 L609.76,143.25 L609.66,143.46 L609.55,143.67 L609.45,143.88 L609.34,144.10 L609.24,144.31 L609.13,144.52 L609.02,144.73 L608.92,144.94 L608.81,145.16 L608.71,145.37 L608.60,145.58 L608.50,145.79 L608.39,146.00 L608.29,146.21 L608.18,146.43 L608.08,146.64 L607.97,146.85 L607.86,147.06 L607.76,147.27 L607.65,147.49 L607.55,147.70 L607.44,147.91 L607.34,148.12 L607.23,148.33 L607.13,148.54 L607.02,148.76 L606.91,148.97 L606.81,149.18 L606.70,149.39 L606.60,149.60 L606.49,149.81 L606.39,150.03 L606.28,150.24 L606.17,150.45 L606.07,150.66 L605.96,150.87 L605.86,151.08 L605.75,151.30 L605.64,151.51 L605.54,151.72 L605.43,151.93 L605.33,152.14 L605.22,152.35 L605.12,152.57 L605.01,152.78 L604.90,152.99 L604.80,153.20 L604.69,153.41 L604.59,153.62 L604.48,153.84 L604.37,154.05 L604.27,154.26 L604.16,154.47 L604.06,154.68 L603.95,154.89 L603.84,155.10 L603.74,155.32 L603.63,155.53 L603.53,155.74 L603.42,155.95 L603.31,156.16 L603.21,156.37 L603.10,156.59 L602.99,156.80 L602.89,157.01 L602.78,157.22 L602.68,157.43 L602.57,157.64 L602.46,157.85 L602.36,158.07 L602.25,158.28 L602.14,158.49 L602.04,158.70 L601.93,158.91 L601.83,159.12 L601.72,159.33 L601.61,159.55 L601.51,159.76 L601.40,159.97 L601.29,160.18 L601.19,160.39 L601.08,160.60 L600.98,160.81 L600.87,161.03 L600.76,161.24 L600.66,161.45 L600.55,161.66 L600.44,161.87 L600.34,162.08 L600.23,162.29 L600.12,162.50 L600.02,162.72 L599.91,162.93 L599.80,163.14 L599.70,163.35 L599.59,163.56 L599.49,163.77 L599.38,163.98 L599.27,164.19 L599.17,164.41 L599.06,164.62 L598.95,164.83 L598.85,165.04 L598.74,165.25 L598.63,165.46 L598.53,165.67 L598.42,165.88 L598.31,166.10 L598.21,166.31 L598.10,166.52 L597.99,166.73 L597.89,166.94 L597.78,167.15 L597.67,167.36 L597.57,167.57 L597.46,167.79 L597.35,168.00 L597.25,168.21 L597.14,168.42 L597.03,168.63 L596.93,168.84 L596.82,169.05 L596.71,169.26 L596.61,169.48 L596.50,169.69 L596.39,169.90 L596.29,170.11 L596.18,170.32 L596.07,170.53 L595.97,170.74 L595.86,170.95 L595.75,171.16 L595.64,171.38 L595.54,171.59 L595.43,171.80 L595.32,172.01 L595.22,172.22 L595.11,172.43 L595.00,172.64 L594.90,172.85 L594.79,173.06 L594.68,173.27 L594.58,173.49 L594.47,173.70 L594.36,173.91 L594.26,174.12 L594.15,174.33 L594.04,174.54 L593.93,174.75 L593.83,174.96 L593.72,175.17 L593.61,175.39 L593.51,175.60 L593.40,175.81 L593.29,176.02 L593.19,176.23 L593.08,176.44 L592.97,176.65 L592.87,176.86 L592.76,177.07 L592.65,177.28 L592.54,177.50 L592.44,177.71 L592.33,177.92 L592.22,178.13 L592.12,178.34 L592.01,178.55 L591.90,178.76 L591.79,178.97 L591.69,179.18 L591.58,179.39 L591.47,179.61 L591.37,179.82 L591.26,180.03 L591.15,180.24 L591.05,180.45 L590.94,180.66 L590.83,180.87 L590.72,181.08 L590.62,181.29 L590.51,181.50 L590.40,181.71 L590.30,181.93 L590.19,182.14 L590.08,182.35 L589.97,182.56 L589.87,182.77 L589.76,182.98 L589.65,183.19 L589.55,183.40 L589.44,183.61 L589.33,183.82 L589.22,184.03 L589.12,184.24 L589.01,184.46 L588.90,184.67 L588.80,184.88 L588.69,185.09 L588.58,185.30 L588.47,185.51 L588.37,185.72 L588.26,185.93 L588.15,186.14 L588.04,186.35 L587.94,186.56 L587.83,186.78 L587.72,186.99 L587.62,187.20 L587.51,187.41 L587.40,187.62 L587.29,187.83 L587.19,188.04 L587.08,188.25 L586.97,188.46 L586.87,188.67 L586.76,188.88 L586.65,189.09 L586.54,189.30 L586.44,189.52 L586.33,189.73 L586.22,189.94 L586.11,190.15 L586.01,190.36 L585.90,190.57 L585.79,190.78 L585.69,190.99 L585.58,191.20 L585.47,191.41 L585.36,191.62 L585.26,191.83 L585.15,192.05 L585.04,192.26 L584.93,192.47 L584.83,192.68 L584.72,192.89 L584.61,193.10 L584.51,193.31 L584.40,193.52 L584.29,193.73 L584.18,193.94 L584.08,194.15 L583.97,194.36 L583.86,194.57 L583.75,194.78 L583.65,195.00 L583.54,195.21 L583.43,195.42 L583.33,195.63 L583.22,195.84 L583.11,196.05 L583.00,196.26 L582.90,196.47 L582.79,196.68 L582.68,196.89 L582.57,197.10 L582.47,197.31 L582.36,197.52 L582.25,197.74 L582.15,197.95 L582.04,198.16 L581.93,198.37 L581.82,198.58 L581.72,198.79 L581.61,199.00 L581.50,199.21 L581.39,199.42 L581.29,199.63 L581.18,199.84" fill="none" stroke="#ff5548" stroke-width="1.95" stroke-linejoin="round" stroke-linecap="round"/>
<rect x="579.34" y="200.86" width="1.75" height="1.75" fill="#ff5548" opacity="0.88"/><rect x="578.48" y="202.55" width="1.75" height="1.75" fill="#ff5548" opacity="0.88"/><rect x="577.62" y="204.23" width="1.75" height="1.75" fill="#ff5548" opacity="0.88"/><rect x="576.77" y="205.92" width="1.75" height="1.75" fill="#ff5548" opacity="0.88"/><rect x="575.91" y="207.61" width="1.75" height="1.75" fill="#ff5548" opacity="0.88"/><rect x="575.05" y="209.29" width="1.75" height="1.75" fill="#ff5548" opacity="0.88"/><rect x="574.19" y="210.98" width="1.75" height="1.75" fill="#ff5548" opacity="0.88"/><rect x="573.34" y="212.66" width="1.75" height="1.75" fill="#ff5548" opacity="0.88"/><rect x="572.48" y="214.35" width="1.75" height="1.75" fill="#ff5548" opacity="0.88"/><rect x="571.62" y="216.03" width="1.75" height="1.75" fill="#ff5548" opacity="0.88"/><rect x="570.77" y="217.72" width="1.75" height="1.75" fill="#ff5548" opacity="0.88"/><rect x="569.91" y="219.40" width="1.75" height="1.75" fill="#ff5548" opacity="0.88"/><rect x="569.06" y="221.09" width="1.75" height="1.75" fill="#ff5548" opacity="0.88"/><rect x="568.20" y="222.77" width="1.75" height="1.75" fill="#ff5548" opacity="0.88"/><rect x="567.35" y="224.46" width="1.75" height="1.75" fill="#ff5548" opacity="0.88"/><rect x="566.49" y="226.14" width="1.75" height="1.75" fill="#ff5548" opacity="0.88"/><rect x="565.64" y="227.83" width="1.75" height="1.75" fill="#ff5548" opacity="0.88"/><rect x="564.79" y="229.52" width="1.75" height="1.75" fill="#ff5548" opacity="0.88"/><rect x="563.94" y="231.20" width="1.75" height="1.75" fill="#ff5548" opacity="0.88"/><rect x="563.08" y="232.89" width="1.75" height="1.75" fill="#ff5548" opacity="0.88"/><rect x="562.23" y="234.58" width="1.75" height="1.75" fill="#ff5548" opacity="0.88"/>
<rect x="561.05" y="237.15" width="1.7" height="1.7" fill="#ff5548" opacity="0.85"/><rect x="559.15" y="240.85" width="1.7" height="1.7" fill="#ff5548" opacity="0.85"/><rect x="556.95" y="244.45" width="1.7" height="1.7" fill="#ff5548" opacity="0.85"/><rect x="556.25" y="246.65" width="1.7" height="1.7" fill="#ff5548" opacity="0.85"/><rect x="554.45" y="248.85" width="1.7" height="1.7" fill="#ff5548" opacity="0.85"/><rect x="553.35" y="251.45" width="1.7" height="1.7" fill="#ff5548" opacity="0.85"/><rect x="551.85" y="254.65" width="1.7" height="1.7" fill="#ff5548" opacity="0.85"/><rect x="551.15" y="257.25" width="1.7" height="1.7" fill="#ff5548" opacity="0.85"/><rect x="548.95" y="260.95" width="1.7" height="1.7" fill="#ff5548" opacity="0.85"/><rect x="548.95" y="261.95" width="1.7" height="1.7" fill="#ff5548" opacity="0.85"/><rect x="547.35" y="264.55" width="1.7" height="1.7" fill="#ff5548" opacity="0.85"/><rect x="545.65" y="267.85" width="1.7" height="1.7" fill="#ff5548" opacity="0.85"/>
<rect x="543.75" y="272.25" width="1.5" height="1.5" fill="#ff5548" opacity="0.72"/><rect x="541.65" y="276.55" width="1.5" height="1.5" fill="#ff5548" opacity="0.72"/><rect x="539.25" y="280.05" width="1.5" height="1.5" fill="#ff5548" opacity="0.72"/><rect x="537.45" y="282.95" width="1.5" height="1.5" fill="#ff5548" opacity="0.72"/><rect x="538.45" y="284.15" width="1.5" height="1.5" fill="#ff5548" opacity="0.72"/><rect x="536.55" y="284.75" width="1.5" height="1.5" fill="#ff5548" opacity="0.72"/><rect x="540.85" y="286.15" width="1.5" height="1.5" fill="#ff5548" opacity="0.72"/><rect x="535.95" y="288.85" width="1.5" height="1.5" fill="#ff5548" opacity="0.72"/><rect x="538.05" y="289.95" width="1.5" height="1.5" fill="#ff5548" opacity="0.72"/><rect x="534.85" y="291.55" width="1.5" height="1.5" fill="#ff5548" opacity="0.72"/><rect x="533.45" y="294.25" width="1.5" height="1.5" fill="#ff5548" opacity="0.72"/><rect x="536.45" y="294.25" width="1.5" height="1.5" fill="#ff5548" opacity="0.72"/><rect x="537.35" y="294.65" width="1.5" height="1.5" fill="#ff5548" opacity="0.72"/><rect x="538.45" y="295.25" width="1.5" height="1.5" fill="#ff5548" opacity="0.72"/><rect x="538.15" y="296.45" width="1.5" height="1.5" fill="#ff5548" opacity="0.72"/><rect x="533.95" y="298.75" width="1.5" height="1.5" fill="#ff5548" opacity="0.72"/><rect x="534.95" y="300.75" width="1.5" height="1.5" fill="#ff5548" opacity="0.72"/><rect x="535.25" y="301.45" width="1.5" height="1.5" fill="#ff5548" opacity="0.72"/><rect x="531.45" y="302.75" width="1.5" height="1.5" fill="#ff5548" opacity="0.72"/><rect x="532.55" y="305.95" width="1.5" height="1.5" fill="#ff5548" opacity="0.72"/><rect x="533.75" y="307.75" width="1.5" height="1.5" fill="#ff5548" opacity="0.72"/><rect x="531.65" y="309.75" width="1.5" height="1.5" fill="#ff5548" opacity="0.72"/><rect x="534.05" y="310.65" width="1.5" height="1.5" fill="#ff5548" opacity="0.72"/><rect x="532.45" y="314.75" width="1.5" height="1.5" fill="#ff5548" opacity="0.72"/><rect x="530.45" y="319.35" width="1.5" height="1.5" fill="#ff5548" opacity="0.72"/><rect x="526.75" y="325.65" width="1.5" height="1.5" fill="#ff5548" opacity="0.72"/><rect x="524.65" y="329.65" width="1.5" height="1.5" fill="#ff5548" opacity="0.72"/><rect x="527.15" y="336.35" width="1.5" height="1.5" fill="#ff5548" opacity="0.72"/><rect x="520.75" y="336.35" width="1.5" height="1.5" fill="#ff5548" opacity="0.72"/><rect x="522.85" y="338.45" width="1.5" height="1.5" fill="#ff5548" opacity="0.72"/><rect x="519.45" y="338.95" width="1.5" height="1.5" fill="#ff5548" opacity="0.72"/><rect x="523.65" y="340.25" width="1.5" height="1.5" fill="#ff5548" opacity="0.72"/><rect x="518.45" y="341.95" width="1.5" height="1.5" fill="#ff5548" opacity="0.72"/><rect x="524.75" y="343.75" width="1.5" height="1.5" fill="#ff5548" opacity="0.72"/><rect x="520.35" y="351.25" width="1.5" height="1.5" fill="#ff5548" opacity="0.72"/><rect x="516.65" y="360.65" width="1.5" height="1.5" fill="#ff5548" opacity="0.72"/><rect x="523.65" y="364.35" width="1.5" height="1.5" fill="#ff5548" opacity="0.72"/><rect x="510.15" y="372.95" width="1.5" height="1.5" fill="#ff5548" opacity="0.72"/><rect x="506.15" y="382.75" width="1.5" height="1.5" fill="#ff5548" opacity="0.72"/><rect x="503.65" y="391.65" width="1.5" height="1.5" fill="#ff5548" opacity="0.72"/><rect x="505.55" y="393.55" width="1.5" height="1.5" fill="#ff5548" opacity="0.72"/><rect x="498.45" y="408.65" width="1.5" height="1.5" fill="#ff5548" opacity="0.72"/><rect x="494.25" y="421.65" width="1.5" height="1.5" fill="#ff5548" opacity="0.72"/><rect x="495.25" y="428.25" width="1.5" height="1.5" fill="#ff5548" opacity="0.72"/><rect x="489.65" y="434.55" width="1.5" height="1.5" fill="#ff5548" opacity="0.72"/><rect x="484.05" y="450.85" width="1.5" height="1.5" fill="#ff5548" opacity="0.72"/><rect x="481.35" y="467.85" width="1.5" height="1.5" fill="#ff5548" opacity="0.72"/><rect x="476.65" y="487.45" width="1.5" height="1.5" fill="#ff5548" opacity="0.72"/><rect x="555.35" y="490.55" width="1.5" height="1.5" fill="#ff5548" opacity="0.72"/>
<path d="M655.76,44.91 L655.72,45.15 L655.67,45.39 L655.63,45.63 L655.59,45.87 L655.55,46.11 L655.51,46.35 L655.46,46.59 L655.42,46.83 L655.38,47.07 L655.34,47.31 L655.29,47.55 L655.25,47.78 L655.21,48.02 L655.17,48.26 L655.12,48.50 L655.08,48.74 L655.03,48.98 L654.99,49.22 L654.95,49.46 L654.90,49.70 L654.86,49.94 L654.81,50.18 L654.77,50.42 L654.72,50.66 L654.68,50.89 L654.63,51.13 L654.59,51.37 L654.54,51.61 L654.50,51.85 L654.45,52.09 L654.41,52.33 L654.36,52.57 L654.32,52.81 L654.27,53.04 L654.22,53.28 L654.18,53.52 L654.13,53.76 L654.08,54.00 L654.04,54.24 L653.99,54.48 L653.94,54.71 L653.89,54.95 L653.85,55.19 L653.80,55.43 L653.75,55.67 L653.70,55.91 L653.65,56.14 L653.60,56.38 L653.56,56.62 L653.51,56.86 L653.46,57.10 L653.41,57.33 L653.36,57.57 L653.31,57.81 L653.26,58.05 L653.21,58.29 L653.16,58.52 L653.11,58.76 L653.06,59.00 L653.01,59.24 L652.96,59.47 L652.91,59.71 L652.86,59.95 L652.81,60.19 L652.76,60.42 L652.70,60.66 L652.65,60.90 L652.60,61.13 L652.55,61.37 L652.50,61.61 L652.44,61.85 L652.39,62.08 L652.34,62.32 L652.29,62.56 L652.23,62.79 L652.18,63.03 L652.13,63.27 L652.07,63.50 L652.02,63.74 L651.97,63.98 L651.91,64.21 L651.86,64.45 L651.81,64.69 L651.75,64.92 L651.70,65.16 L651.64,65.40 L651.59,65.63 L651.53,65.87 L651.48,66.11 L651.42,66.34 L651.37,66.58 L651.31,66.81 L651.25,67.05 L651.20,67.29 L651.14,67.52 L651.09,67.76 L651.03,67.99 L650.97,68.23 L650.92,68.47 L650.86,68.70 L650.80,68.94 L650.74,69.17 L650.69,69.41 L650.63,69.64 L650.57,69.88 L650.51,70.11 L650.45,70.35 L650.40,70.59 L650.34,70.82 L650.28,71.06 L650.22,71.29 L650.16,71.53 L650.10,71.76 L650.04,72.00 L649.98,72.23 L649.92,72.47 L649.86,72.70 L649.80,72.94 L649.74,73.17 L649.68,73.40 L649.62,73.64 L649.56,73.87 L649.50,74.11 L649.44,74.34 L649.38,74.58 L649.31,74.81 L649.25,75.05 L649.19,75.28 L649.13,75.51 L649.07,75.75 L649.00,75.98 L648.94,76.22 L648.88,76.45 L648.81,76.68 L648.75,76.92 L648.69,77.15 L648.62,77.38 L648.56,77.62 L648.50,77.85 L648.43,78.08 L648.37,78.32 L648.30,78.55 L648.24,78.78 L648.18,79.02 L648.11,79.25 L648.04,79.48 L647.98,79.72 L647.91,79.95 L647.85,80.18 L647.78,80.42 L647.72,80.65 L647.65,80.88 L647.58,81.11 L647.52,81.35 L647.45,81.58 L647.38,81.81 L647.32,82.04 L647.25,82.28 L647.18,82.51 L647.11,82.74 L647.05,82.97 L646.98,83.21 L646.91,83.44 L646.84,83.67 L646.77,83.90 L646.70,84.13 L646.63,84.37 L646.57,84.60 L646.50,84.83 L646.43,85.06 L646.36,85.29 L646.29,85.52 L646.22,85.76 L646.15,85.99 L646.08,86.22 L646.01,86.45 L645.93,86.68 L645.86,86.91 L645.79,87.14 L645.72,87.37 L645.65,87.60 L645.58,87.83 L645.51,88.07 L645.43,88.30 L645.36,88.53 L645.29,88.76 L645.22,88.99 L645.14,89.22 L645.07,89.45 L645.00,89.68 L644.92,89.91 L644.85,90.14 L644.78,90.37 L644.70,90.60 L644.63,90.83 L644.55,91.06 L644.48,91.29 L644.40,91.52 L644.33,91.75 L644.25,91.98 L644.18,92.21 L644.10,92.44 L644.03,92.67 L643.95,92.90 L643.87,93.12 L643.80,93.35 L643.72,93.58 L643.64,93.81 L643.57,94.04 L643.49,94.27 L643.41,94.50 L643.34,94.73 L643.26,94.96 L643.18,95.18 L643.10,95.41 L643.02,95.64 L642.94,95.87 L642.87,96.10 L642.79,96.33 L642.71,96.55 L642.63,96.78 L642.55,97.01 L642.47,97.24 L642.39,97.47 L642.31,97.69 L642.23,97.92 L642.15,98.15 L642.07,98.38 L641.99,98.60 L641.91,98.83 L641.82,99.06 L641.74,99.29 L641.66,99.51 L641.58,99.74 L641.50,99.97 L641.42,100.19 L641.33,100.42 L641.25,100.65 L641.17,100.87 L641.08,101.10 L641.00,101.33 L640.92,101.55 L640.83,101.78 L640.75,102.01 L640.67,102.23 L640.58,102.46 L640.50,102.68 L640.41,102.91 L640.33,103.14 L640.24,103.36 L640.16,103.59 L640.07,103.81 L639.99,104.04 L639.90,104.26 L639.81,104.49 L639.73,104.72 L639.64,104.94 L639.55,105.17 L639.47,105.39 L639.38,105.62 L639.29,105.84 L639.20,106.07 L639.12,106.29 L639.03,106.52 L638.94,106.74 L638.85,106.96 L638.76,107.19 L638.67,107.41 L638.59,107.64 L638.50,107.86 L638.41,108.09 L638.32,108.31 L638.23,108.53 L638.14,108.76 L638.05,108.98 L637.96,109.20 L637.87,109.43 L637.78,109.65 L637.68,109.88 L637.59,110.10 L637.50,110.32 L637.41,110.54 L637.32,110.77 L637.23,110.99 L637.13,111.21 L637.04,111.44 L636.95,111.66 L636.85,111.88 L636.76,112.10 L636.67,112.33 L636.57,112.55 L636.48,112.77 L636.39,112.99 L636.29,113.22 L636.20,113.44 L636.10,113.66 L636.01,113.88 L635.91,114.10 L635.82,114.32 L635.72,114.55 L635.63,114.77 L635.53,114.99 L635.43,115.21 L635.34,115.43 L635.24,115.65 L635.14,115.87 L635.05,116.09 L634.95,116.32 L634.85,116.54 L634.76,116.76 L634.66,116.98 L634.56,117.20 L634.46,117.42 L634.36,117.64 L634.26,117.86 L634.16,118.08 L634.07,118.30 L633.97,118.52 L633.87,118.74 L633.77,118.96 L633.67,119.18 L633.57,119.40 L633.47,119.62 L633.36,119.84 L633.26,120.06 L633.16,120.27 L633.06,120.49 L632.96,120.71 L632.86,120.93 L632.76,121.15 L632.65,121.37 L632.55,121.59 L632.45,121.81 L632.34,122.02 L632.24,122.24 L632.14,122.46 L632.03,122.68 L631.93,122.90 L631.83,123.12 L631.72,123.33 L631.62,123.55 L631.51,123.77 L631.41,123.99 L631.30,124.20 L631.20,124.42 L631.09,124.64 L630.99,124.86 L630.88,125.07 L630.77,125.29 L630.67,125.51 L630.56,125.72 L630.46,125.94 L630.35,126.16 L630.24,126.37 L630.13,126.59 L630.03,126.81 L629.92,127.02 L629.81,127.24 L629.70,127.45 L629.59,127.67 L629.49,127.89 L629.38,128.10 L629.27,128.32 L629.16,128.53 L629.05,128.75 L628.94,128.96 L628.83,129.18 L628.72,129.40 L628.61,129.61 L628.50,129.83 L628.39,130.04 L628.28,130.26 L628.17,130.47 L628.06,130.69 L627.95,130.90 L627.84,131.12 L627.72,131.33 L627.61,131.55 L627.50,131.76 L627.39,131.97 L627.28,132.19 L627.17,132.40 L627.05,132.62 L626.94,132.83 L626.83,133.04 L626.72,133.26 L626.60,133.47 L626.49,133.69 L626.38,133.90 L626.26,134.11 L626.15,134.33 L626.03,134.54 L625.92,134.75 L625.81,134.97 L625.69,135.18 L625.58,135.39 L625.46,135.61 L625.35,135.82 L625.23,136.03 L625.12,136.25 L625.00,136.46 L624.89,136.67 L624.77,136.89 L624.66,137.10 L624.54,137.31 L624.43,137.52 L624.31,137.74 L624.19,137.95 L624.08,138.16 L623.96,138.37 L623.84,138.58 L623.73,138.80 L623.61,139.01 L623.49,139.22 L623.38,139.43 L623.26,139.64 L623.14,139.86" fill="none" stroke="#0f97bb" stroke-width="2.3" stroke-linejoin="round" stroke-linecap="round"/>
<path d="M623.02,140.07 L622.91,140.28 L622.79,140.49 L622.67,140.70 L622.55,140.91 L622.44,141.13 L622.32,141.34 L622.20,141.55 L622.08,141.76 L621.96,141.97 L621.84,142.18 L621.72,142.39 L621.61,142.60 L621.49,142.82 L621.37,143.03 L621.25,143.24 L621.13,143.45 L621.01,143.66 L620.89,143.87 L620.77,144.08 L620.65,144.29 L620.53,144.50 L620.41,144.71 L620.29,144.92 L620.17,145.13 L620.05,145.34 L619.93,145.55 L619.81,145.76 L619.69,145.97 L619.57,146.18 L619.45,146.39 L619.33,146.60 L619.21,146.81 L619.08,147.02 L618.96,147.23 L618.84,147.44 L618.72,147.65 L618.60,147.86 L618.48,148.07 L618.36,148.28 L618.24,148.49 L618.11,148.70 L617.99,148.91 L617.87,149.12 L617.75,149.33 L617.63,149.54 L617.50,149.75 L617.38,149.96 L617.26,150.17 L617.14,150.38 L617.02,150.59 L616.89,150.80 L616.77,151.00 L616.65,151.21 L616.53,151.42 L616.40,151.63 L616.28,151.84 L616.16,152.05 L616.03,152.26 L615.91,152.47 L615.79,152.68 L615.67,152.88 L615.54,153.09 L615.42,153.30 L615.30,153.51 L615.17,153.72 L615.05,153.93 L614.93,154.14 L614.80,154.34 L614.68,154.55 L614.56,154.76 L614.43,154.97 L614.31,155.18 L614.18,155.39 L614.06,155.59 L613.94,155.80 L613.81,156.01 L613.69,156.22 L613.57,156.43 L613.44,156.63 L613.32,156.84 L613.19,157.05 L613.07,157.26 L612.95,157.47 L612.82,157.67 L612.70,157.88 L612.57,158.09 L612.45,158.30 L612.33,158.51 L612.20,158.71 L612.08,158.92 L611.95,159.13 L611.83,159.34 L611.70,159.55 L611.58,159.75 L611.46,159.96 L611.33,160.17 L611.21,160.38 L611.08,160.58 L610.96,160.79 L610.83,161.00 L610.71,161.21 L610.59,161.41 L610.46,161.62 L610.34,161.83 L610.21,162.04 L610.09,162.24 L609.96,162.45 L609.84,162.66 L609.71,162.86 L609.59,163.07 L609.46,163.28 L609.34,163.49 L609.21,163.69 L609.09,163.90 L608.97,164.11 L608.84,164.31 L608.72,164.52 L608.59,164.73 L608.47,164.94 L608.34,165.14 L608.22,165.35 L608.09,165.56 L607.97,165.76 L607.84,165.97 L607.72,166.18 L607.59,166.38 L607.47,166.59 L607.34,166.80 L607.22,167.00 L607.09,167.21 L606.96,167.42 L606.84,167.62 L606.71,167.83 L606.59,168.04 L606.46,168.24 L606.34,168.45 L606.21,168.66 L606.09,168.86 L605.96,169.07 L605.84,169.27 L605.71,169.48 L605.58,169.69 L605.46,169.89 L605.33,170.10 L605.21,170.31 L605.08,170.51 L604.96,170.72 L604.83,170.92 L604.70,171.13 L604.58,171.34 L604.45,171.54 L604.33,171.75 L604.20,171.95 L604.07,172.16 L603.95,172.36 L603.82,172.57 L603.70,172.78 L603.57,172.98 L603.44,173.19 L603.32,173.39 L603.19,173.60 L603.06,173.80 L602.94,174.01 L602.81,174.21 L602.68,174.42 L602.56,174.63 L602.43,174.83 L602.30,175.04 L602.18,175.24 L602.05,175.45 L601.92,175.65 L601.80,175.86 L601.67,176.06 L601.54,176.27 L601.42,176.47 L601.29,176.68 L601.16,176.88 L601.03,177.09 L600.91,177.29 L600.78,177.50 L600.65,177.70 L600.53,177.90 L600.40,178.11 L600.27,178.31 L600.14,178.52 L600.02,178.72 L599.89,178.93 L599.76,179.13 L599.63,179.34 L599.50,179.54 L599.38,179.74 L599.25,179.95 L599.12,180.15 L598.99,180.36 L598.87,180.56 L598.74,180.76 L598.61,180.97 L598.48,181.17 L598.35,181.38 L598.22,181.58 L598.10,181.78 L597.97,181.99 L597.84,182.19 L597.71,182.40 L597.58,182.60 L597.45,182.80 L597.33,183.01 L597.20,183.21 L597.07,183.41 L596.94,183.62 L596.81,183.82 L596.68,184.02 L596.55,184.23 L596.42,184.43 L596.29,184.63 L596.16,184.83 L596.04,185.04 L595.91,185.24 L595.78,185.44 L595.65,185.65 L595.52,185.85 L595.39,186.05 L595.26,186.25 L595.13,186.46 L595.00,186.66 L594.87,186.86 L594.74,187.06 L594.61,187.27 L594.48,187.47 L594.35,187.67 L594.22,187.87 L594.09,188.08 L593.96,188.28 L593.83,188.48 L593.70,188.68 L593.57,188.88 L593.44,189.09 L593.30,189.29 L593.17,189.49 L593.04,189.69 L592.91,189.89 L592.78,190.09 L592.65,190.30 L592.52,190.50 L592.39,190.70 L592.26,190.90 L592.12,191.10 L591.99,191.30 L591.86,191.50 L591.73,191.70 L591.60,191.91 L591.47,192.11 L591.33,192.31 L591.20,192.51 L591.07,192.71 L590.94,192.91 L590.80,193.11 L590.67,193.31 L590.54,193.51 L590.41,193.71 L590.27,193.91 L590.14,194.11 L590.01,194.31 L589.87,194.51 L589.74,194.71 L589.61,194.91 L589.47,195.11 L589.34,195.31 L589.21,195.51 L589.07,195.71 L588.94,195.91 L588.81,196.11 L588.67,196.31 L588.54,196.51 L588.40,196.71 L588.27,196.91 L588.13,197.11 L588.00,197.31 L587.87,197.51 L587.73,197.71 L587.60,197.90 L587.46,198.10 L587.33,198.30 L587.19,198.50 L587.06,198.70 L586.92,198.90 L586.78,199.10 L586.65,199.29 L586.51,199.49 L586.38,199.69 L586.24,199.89 L586.10,200.09 L585.97,200.29 L585.83,200.48 L585.70,200.68 L585.56,200.88 L585.42,201.08 L585.29,201.28 L585.15,201.47 L585.01,201.67 L584.87,201.87 L584.74,202.07 L584.60,202.26 L584.46,202.46 L584.32,202.66 L584.19,202.85 L584.05,203.05 L583.91,203.25 L583.77,203.44 L583.63,203.64 L583.49,203.84 L583.36,204.03 L583.22,204.23 L583.08,204.43 L582.94,204.62 L582.80,204.82 L582.66,205.02 L582.52,205.21 L582.38,205.41 L582.24,205.60 L582.10,205.80 L581.96,206.00" fill="none" stroke="#0f97bb" stroke-width="2.05" stroke-linejoin="round" stroke-linecap="round"/>
<rect x="579.82" y="206.88" width="1.75" height="1.75" fill="#0f97bb" opacity="0.88"/><rect x="578.69" y="208.44" width="1.75" height="1.75" fill="#0f97bb" opacity="0.88"/><rect x="577.55" y="209.99" width="1.75" height="1.75" fill="#0f97bb" opacity="0.88"/><rect x="576.40" y="211.54" width="1.75" height="1.75" fill="#0f97bb" opacity="0.88"/><rect x="575.25" y="213.09" width="1.75" height="1.75" fill="#0f97bb" opacity="0.88"/><rect x="574.08" y="214.63" width="1.75" height="1.75" fill="#0f97bb" opacity="0.88"/><rect x="572.92" y="216.17" width="1.75" height="1.75" fill="#0f97bb" opacity="0.88"/><rect x="571.74" y="217.70" width="1.75" height="1.75" fill="#0f97bb" opacity="0.88"/><rect x="570.56" y="219.23" width="1.75" height="1.75" fill="#0f97bb" opacity="0.88"/><rect x="569.37" y="220.76" width="1.75" height="1.75" fill="#0f97bb" opacity="0.88"/><rect x="568.18" y="222.29" width="1.75" height="1.75" fill="#0f97bb" opacity="0.88"/><rect x="566.98" y="223.81" width="1.75" height="1.75" fill="#0f97bb" opacity="0.88"/><rect x="565.78" y="225.33" width="1.75" height="1.75" fill="#0f97bb" opacity="0.88"/><rect x="564.57" y="226.85" width="1.75" height="1.75" fill="#0f97bb" opacity="0.88"/><rect x="563.36" y="228.36" width="1.75" height="1.75" fill="#0f97bb" opacity="0.88"/><rect x="562.14" y="229.88" width="1.75" height="1.75" fill="#0f97bb" opacity="0.88"/><rect x="560.92" y="231.39" width="1.75" height="1.75" fill="#0f97bb" opacity="0.88"/><rect x="559.69" y="232.90" width="1.75" height="1.75" fill="#0f97bb" opacity="0.88"/><rect x="558.46" y="234.41" width="1.75" height="1.75" fill="#0f97bb" opacity="0.88"/>
<rect x="555.95" y="237.95" width="1.7" height="1.7" fill="#0f97bb" opacity="0.85"/><rect x="554.05" y="239.75" width="1.7" height="1.7" fill="#0f97bb" opacity="0.85"/><rect x="551.85" y="242.25" width="1.7" height="1.7" fill="#0f97bb" opacity="0.85"/><rect x="550.05" y="244.45" width="1.7" height="1.7" fill="#0f97bb" opacity="0.85"/><rect x="547.85" y="246.35" width="1.7" height="1.7" fill="#0f97bb" opacity="0.85"/><rect x="546.05" y="248.45" width="1.7" height="1.7" fill="#0f97bb" opacity="0.85"/><rect x="544.25" y="250.65" width="1.7" height="1.7" fill="#0f97bb" opacity="0.85"/><rect x="542.35" y="252.35" width="1.7" height="1.7" fill="#0f97bb" opacity="0.85"/><rect x="540.75" y="253.65" width="1.7" height="1.7" fill="#0f97bb" opacity="0.85"/><rect x="538.75" y="255.15" width="1.7" height="1.7" fill="#0f97bb" opacity="0.85"/><rect x="536.95" y="256.85" width="1.7" height="1.7" fill="#0f97bb" opacity="0.85"/><rect x="535.45" y="258.35" width="1.7" height="1.7" fill="#0f97bb" opacity="0.85"/><rect x="533.45" y="260.15" width="1.7" height="1.7" fill="#0f97bb" opacity="0.85"/><rect x="531.45" y="261.45" width="1.7" height="1.7" fill="#0f97bb" opacity="0.85"/><rect x="528.65" y="263.45" width="1.7" height="1.7" fill="#0f97bb" opacity="0.85"/><rect x="526.15" y="265.15" width="1.7" height="1.7" fill="#0f97bb" opacity="0.85"/><rect x="523.85" y="267.55" width="1.7" height="1.7" fill="#0f97bb" opacity="0.85"/>
<rect x="522.45" y="269.45" width="1.5" height="1.5" fill="#0f97bb" opacity="0.72"/><rect x="519.15" y="271.85" width="1.5" height="1.5" fill="#0f97bb" opacity="0.72"/><rect x="516.45" y="273.95" width="1.5" height="1.5" fill="#0f97bb" opacity="0.72"/><rect x="515.15" y="275.05" width="1.5" height="1.5" fill="#0f97bb" opacity="0.72"/><rect x="513.85" y="275.95" width="1.5" height="1.5" fill="#0f97bb" opacity="0.72"/><rect x="512.35" y="278.55" width="1.5" height="1.5" fill="#0f97bb" opacity="0.72"/><rect x="509.45" y="281.05" width="1.5" height="1.5" fill="#0f97bb" opacity="0.72"/><rect x="506.65" y="284.25" width="1.5" height="1.5" fill="#0f97bb" opacity="0.72"/><rect x="503.55" y="286.95" width="1.5" height="1.5" fill="#0f97bb" opacity="0.72"/><rect x="500.55" y="290.45" width="1.5" height="1.5" fill="#0f97bb" opacity="0.72"/><rect x="498.95" y="292.15" width="1.5" height="1.5" fill="#0f97bb" opacity="0.72"/><rect x="497.25" y="293.75" width="1.5" height="1.5" fill="#0f97bb" opacity="0.72"/><rect x="493.25" y="296.95" width="1.5" height="1.5" fill="#0f97bb" opacity="0.72"/><rect x="489.75" y="300.45" width="1.5" height="1.5" fill="#0f97bb" opacity="0.72"/><rect x="485.65" y="303.45" width="1.5" height="1.5" fill="#0f97bb" opacity="0.72"/><rect x="483.95" y="306.05" width="1.5" height="1.5" fill="#0f97bb" opacity="0.72"/><rect x="482.15" y="306.95" width="1.5" height="1.5" fill="#0f97bb" opacity="0.72"/><rect x="477.75" y="310.75" width="1.5" height="1.5" fill="#0f97bb" opacity="0.72"/><rect x="473.45" y="314.75" width="1.5" height="1.5" fill="#0f97bb" opacity="0.72"/><rect x="468.15" y="320.55" width="1.5" height="1.5" fill="#0f97bb" opacity="0.72"/><rect x="463.45" y="325.35" width="1.5" height="1.5" fill="#0f97bb" opacity="0.72"/><rect x="459.35" y="329.15" width="1.5" height="1.5" fill="#0f97bb" opacity="0.72"/><rect x="454.65" y="329.15" width="1.5" height="1.5" fill="#0f97bb" opacity="0.72"/><rect x="451.15" y="332.65" width="1.5" height="1.5" fill="#0f97bb" opacity="0.72"/><rect x="444.85" y="339.35" width="1.5" height="1.5" fill="#0f97bb" opacity="0.72"/><rect x="444.85" y="341.45" width="1.5" height="1.5" fill="#0f97bb" opacity="0.72"/><rect x="439.75" y="345.95" width="1.5" height="1.5" fill="#0f97bb" opacity="0.72"/><rect x="433.85" y="350.95" width="1.5" height="1.5" fill="#0f97bb" opacity="0.72"/><rect x="425.95" y="356.35" width="1.5" height="1.5" fill="#0f97bb" opacity="0.72"/><rect x="418.45" y="361.95" width="1.5" height="1.5" fill="#0f97bb" opacity="0.72"/><rect x="411.05" y="367.75" width="1.5" height="1.5" fill="#0f97bb" opacity="0.72"/><rect x="404.95" y="373.05" width="1.5" height="1.5" fill="#0f97bb" opacity="0.72"/><rect x="399.65" y="378.95" width="1.5" height="1.5" fill="#0f97bb" opacity="0.72"/><rect x="393.45" y="382.75" width="1.5" height="1.5" fill="#0f97bb" opacity="0.72"/><rect x="386.25" y="387.45" width="1.5" height="1.5" fill="#0f97bb" opacity="0.72"/><rect x="381.15" y="387.45" width="1.5" height="1.5" fill="#0f97bb" opacity="0.72"/><rect x="371.95" y="395.55" width="1.5" height="1.5" fill="#0f97bb" opacity="0.72"/><rect x="363.75" y="403.35" width="1.5" height="1.5" fill="#0f97bb" opacity="0.72"/><rect x="350.45" y="411.95" width="1.5" height="1.5" fill="#0f97bb" opacity="0.72"/><rect x="352.95" y="413.35" width="1.5" height="1.5" fill="#0f97bb" opacity="0.72"/><rect x="343.35" y="428.25" width="1.5" height="1.5" fill="#0f97bb" opacity="0.72"/><rect x="334.25" y="427.75" width="1.5" height="1.5" fill="#0f97bb" opacity="0.72"/><rect x="324.45" y="432.85" width="1.5" height="1.5" fill="#0f97bb" opacity="0.72"/><rect x="326.55" y="436.05" width="1.5" height="1.5" fill="#0f97bb" opacity="0.72"/><rect x="332.15" y="449.35" width="1.5" height="1.5" fill="#0f97bb" opacity="0.72"/><rect x="305.05" y="462.15" width="1.5" height="1.5" fill="#0f97bb" opacity="0.72"/><rect x="357.05" y="470.65" width="1.5" height="1.5" fill="#0f97bb" opacity="0.72"/><rect x="297.65" y="489.55" width="1.5" height="1.5" fill="#0f97bb" opacity="0.72"/><rect x="444.05" y="451.85" width="1.5" height="1.5" fill="#0f97bb" opacity="0.72"/>
<path d="M659.2,34.5 L662.6,37.9 L659.2,41.3 L655.8000000000001,37.9 Z" fill="#ffa940" stroke="#fff" stroke-width="0.8"/>
<path d="M660.0,41.400000000000006 L663.3,44.7 L660.0,48.0 L656.7,44.7 Z" fill="#8a2be2" stroke="#fff" stroke-width="0.8"/>
<path d="M658.3,39.6 L661.5999999999999,42.9 L658.3,46.199999999999996 L655.0,42.9 Z" fill="#fff" stroke="#fff" stroke-width="0.8"/>
<path d="M657.2,39.0 L660.6,42.4 L657.2,45.8 L653.8000000000001,42.4 Z" fill="#0f97bb" stroke="#fff" stroke-width="0.8"/>
<rect x="67.0" y="22.5" width="599.3" height="475.9" fill="none" stroke="#000" stroke-width="0.75"/>
<line x1="67.00" y1="498.4" x2="67.00" y2="501.4" stroke="#000" stroke-width="0.75"/>
<line x1="186.86" y1="498.4" x2="186.86" y2="501.4" stroke="#000" stroke-width="0.75"/>
<line x1="306.72" y1="498.4" x2="306.72" y2="501.4" stroke="#000" stroke-width="0.75"/>
<line x1="426.58" y1="498.4" x2="426.58" y2="501.4" stroke="#000" stroke-width="0.75"/>
<line x1="546.44" y1="498.4" x2="546.44" y2="501.4" stroke="#000" stroke-width="0.75"/>
<line x1="666.30" y1="498.4" x2="666.30" y2="501.4" stroke="#000" stroke-width="0.75"/>
<line x1="64.0" y1="22.5" x2="67.0" y2="22.5" stroke="#000" stroke-width="0.75"/>
<line x1="64.0" y1="117.5" x2="67.0" y2="117.5" stroke="#000" stroke-width="0.75"/>
<line x1="64.0" y1="212.5" x2="67.0" y2="212.5" stroke="#000" stroke-width="0.75"/>
<line x1="64.0" y1="307.5" x2="67.0" y2="307.5" stroke="#000" stroke-width="0.75"/>
<line x1="64.0" y1="402.5" x2="67.0" y2="402.5" stroke="#000" stroke-width="0.75"/>
<text font-family="Liberation Mono, monospace" font-size="22" fill="#000" stroke="#000" stroke-width="0.300" transform="translate(47.21,519.95) scale(1.0000,1.0900)">0.0</text>
<text font-family="Liberation Mono, monospace" font-size="22" fill="#000" stroke="#000" stroke-width="0.300" transform="translate(167.17,519.95) scale(1.0000,1.0900)">0.2</text>
<text font-family="Liberation Mono, monospace" font-size="22" fill="#000" stroke="#000" stroke-width="0.300" transform="translate(286.81,519.95) scale(1.0000,1.0900)">0.4</text>
<text font-family="Liberation Mono, monospace" font-size="22" fill="#000" stroke="#000" stroke-width="0.300" transform="translate(406.83,519.95) scale(1.0000,1.0900)">0.6</text>
<text font-family="Liberation Mono, monospace" font-size="22" fill="#000" stroke="#000" stroke-width="0.300" transform="translate(526.70,519.95) scale(1.0000,1.0900)">0.8</text>
<text font-family="Liberation Mono, monospace" font-size="22" fill="#000" stroke="#000" stroke-width="0.300" transform="translate(647.61,519.95) scale(1.0000,1.0900)">1.0</text>
<text font-family="Liberation Mono, monospace" font-size="22" fill="#000" stroke="#000" stroke-width="0.300" transform="translate(22.75,31.10) scale(1.0000,1.0900)">0.0</text>
<text font-family="Liberation Mono, monospace" font-size="22" fill="#000" stroke="#000" stroke-width="0.300" transform="translate(22.95,126.10) scale(1.0000,1.0900)">0.2</text>
<text font-family="Liberation Mono, monospace" font-size="22" fill="#000" stroke="#000" stroke-width="0.300" transform="translate(22.51,221.10) scale(1.0000,1.0900)">0.4</text>
<text font-family="Liberation Mono, monospace" font-size="22" fill="#000" stroke="#000" stroke-width="0.300" transform="translate(22.82,316.10) scale(1.0000,1.0900)">0.6</text>
<text font-family="Liberation Mono, monospace" font-size="22" fill="#000" stroke="#000" stroke-width="0.300" transform="translate(22.84,411.10) scale(1.0000,1.0900)">0.8</text>
<text font-family="Liberation Mono, monospace" font-size="21.1" fill="#000" stroke="#000" stroke-width="0.300" transform="translate(315.60,542.70) scale(1.0000,1.0500)">Accuracy</text>
<g transform="translate(15.9,286.53) rotate(-90)"><text font-family="Liberation Mono, monospace" font-size="21.8" fill="#000" stroke="#000" stroke-width="0.3" transform="scale(1,1.1)">Loss</text></g>
<rect x="73.5" y="29.0" width="239.64999999999998" height="190.4" fill="#fff" stroke="none"/>
<svg x="73.5" y="29.0" width="239.64999999999998" height="190.4" viewBox="73.5 29.0 239.64999999999998 190.4" overflow="hidden">
<path d="M291.56,68.09 L291.40,68.50 L291.23,68.90 L291.06,69.30 L290.90,69.70 L290.73,70.10 L290.57,70.50 L290.40,70.90 L290.23,71.30 L290.07,71.70 L289.90,72.11 L289.74,72.51 L289.57,72.91 L289.40,73.31 L289.24,73.71 L289.07,74.11 L288.90,74.51 L288.74,74.91 L288.57,75.32 L288.41,75.72 L288.24,76.12 L288.07,76.52 L287.91,76.92 L287.74,77.32 L287.58,77.72 L287.41,78.13 L287.24,78.53 L287.08,78.93 L286.91,79.33 L286.74,79.73 L286.58,80.13 L286.41,80.54 L286.24,80.94 L286.08,81.34 L285.91,81.74 L285.74,82.14 L285.58,82.54 L285.41,82.95 L285.24,83.35 L285.08,83.75 L284.91,84.15 L284.74,84.55 L284.58,84.95 L284.41,85.36 L284.24,85.76 L284.08,86.16 L283.91,86.56 L283.74,86.96 L283.58,87.36 L283.41,87.77 L283.24,88.17 L283.08,88.57 L282.91,88.97 L282.74,89.37 L282.57,89.78 L282.41,90.18 L282.24,90.58 L282.07,90.98 L281.91,91.38 L281.74,91.79 L281.57,92.19 L281.40,92.59 L281.24,92.99 L281.07,93.39 L280.90,93.80 L280.73,94.20 L280.57,94.60 L280.40,95.00 L280.23,95.40 L280.06,95.80 L279.89,96.21 L279.73,96.61 L279.56,97.01 L279.39,97.41 L279.22,97.81 L279.05,98.22 L278.89,98.62 L278.72,99.02 L278.55,99.42 L278.38,99.82 L278.21,100.23 L278.04,100.63 L277.88,101.03 L277.71,101.43 L277.54,101.83 L277.37,102.23 L277.20,102.64 L277.03,103.04 L276.86,103.44 L276.70,103.84 L276.53,104.24 L276.36,104.65 L276.19,105.05 L276.02,105.45 L275.85,105.85 L275.68,106.25 L275.51,106.65 L275.34,107.06 L275.17,107.46 L275.00,107.86 L274.83,108.26 L274.66,108.66 L274.49,109.07 L274.32,109.47 L274.15,109.87 L273.98,110.27 L273.81,110.67 L273.64,111.07 L273.47,111.47 L273.30,111.88 L273.13,112.28 L272.96,112.68 L272.79,113.08 L272.62,113.48 L272.45,113.88 L272.28,114.29 L272.11,114.69 L271.94,115.09 L271.77,115.49 L271.60,115.89 L271.43,116.29 L271.26,116.69 L271.09,117.10 L270.91,117.50 L270.74,117.90 L270.57,118.30 L270.40,118.70 L270.23,119.10 L270.06,119.50 L269.89,119.90 L269.71,120.30 L269.54,120.71 L269.37,121.11 L269.20,121.51 L269.03,121.91 L268.85,122.31 L268.68,122.71 L268.51,123.11 L268.34,123.51 L268.16,123.91 L267.99,124.31 L267.82,124.72 L267.64,125.12 L267.47,125.52 L267.30,125.92 L267.13,126.32 L266.95,126.72 L266.78,127.12 L266.61,127.52 L266.43,127.92 L266.26,128.32 L266.08,128.72 L265.91,129.12 L265.74,129.52 L265.56,129.92 L265.39,130.32 L265.22,130.72 L265.04,131.12 L264.87,131.52 L264.69,131.92 L264.52,132.32 L264.34,132.72 L264.17,133.12 L263.99,133.52 L263.82,133.92 L263.64,134.32 L263.47,134.72 L263.29,135.12 L263.12,135.52 L262.94,135.92 L262.77,136.32 L262.59,136.72 L262.41,137.12 L262.24,137.52 L262.06,137.92 L261.89,138.32 L261.71,138.72 L261.53,139.12 L261.36,139.52 L261.18,139.92 L261.00,140.32 L260.83,140.72 L260.65,141.12 L260.47,141.52 L260.29,141.92 L260.12,142.31 L259.94,142.71 L259.76,143.11 L259.58,143.51 L259.41,143.91 L259.23,144.31 L259.05,144.71 L258.87,145.11 L258.69,145.51 L258.52,145.90 L258.34,146.30 L258.16,146.70 L257.98,147.10 L257.80,147.50 L257.62,147.90 L257.44,148.29 L257.26,148.69 L257.08,149.09 L256.91,149.49 L256.73,149.89 L256.55,150.28 L256.37,150.68 L256.19,151.08 L256.01,151.48 L255.83,151.88 L255.64,152.27 L255.46,152.67 L255.28,153.07 L255.10,153.47 L254.92,153.86 L254.74,154.26 L254.56,154.66 L254.38,155.06 L254.20,155.45 L254.02,155.85 L253.83,156.25 L253.65,156.64 L253.47,157.04 L253.29,157.44 L253.10,157.84 L252.92,158.23 L252.74,158.63 L252.56,159.03 L252.37,159.42 L252.19,159.82 L252.01,160.21 L251.82,160.61 L251.64,161.01 L251.46,161.40 L251.27,161.80 L251.09,162.20 L250.91,162.59 L250.72,162.99 L250.54,163.38 L250.35,163.78 L250.17,164.18 L249.98,164.57 L249.80,164.97 L249.61,165.36 L249.43,165.76 L249.24,166.15 L249.06,166.55 L248.87,166.94 L248.69,167.34 L248.50,167.73 L248.31,168.13 L248.13,168.52 L247.94,168.92 L247.75,169.31 L247.57,169.71 L247.38,170.10 L247.19,170.50 L247.01,170.89 L246.82,171.29 L246.63,171.68 L246.44,172.07 L246.25,172.47 L246.07,172.86 L245.88,173.26 L245.69,173.65 L245.50,174.04 L245.31,174.44 L245.12,174.83 L244.93,175.22 L244.75,175.62 L244.56,176.01 L244.37,176.40 L244.18,176.80 L243.99,177.19 L243.80,177.58 L243.61,177.98 L243.42,178.37 L243.23,178.76 L243.04,179.16 L242.84,179.55 L242.65,179.94 L242.46,180.33 L242.27,180.72 L242.08,181.12 L241.89,181.51 L241.69,181.90 L241.50,182.29 L241.31,182.69 L241.12,183.08 L240.93,183.47 L240.73,183.86 L240.54,184.25 L240.35,184.64 L240.15,185.03 L239.96,185.43 L239.77,185.82 L239.57,186.21 L239.38,186.60 L239.18,186.99 L238.99,187.38 L238.79,187.77 L238.60,188.16 L238.40,188.55 L238.21,188.94 L238.01,189.33 L237.82,189.72 L237.62,190.11 L237.43,190.50 L237.23,190.89 L237.03,191.28 L236.84,191.67 L236.64,192.06 L236.44,192.45 L236.25,192.84 L236.05,193.23 L235.85,193.62 L235.65,194.01 L235.46,194.40 L235.26,194.78 L235.06,195.17 L234.86,195.56 L234.66,195.95 L234.46,196.34 L234.26,196.73 L234.06,197.12 L233.86,197.50 L233.66,197.89 L233.46,198.28 L233.26,198.67 L233.06,199.05 L232.86,199.44 L232.66,199.83 L232.46,200.22 L232.26,200.60 L232.06,200.99 L231.86,201.38 L231.66,201.76 L231.45,202.15 L231.25,202.54 L231.05,202.92 L230.85,203.31 L230.64,203.70 L230.44,204.08 L230.24,204.47 L230.04,204.86 L229.83,205.24 L229.63,205.63 L229.42,206.01 L229.22,206.40 L229.01,206.78 L228.81,207.17 L228.61,207.55 L228.40,207.94 L228.19,208.32 L227.99,208.71 L227.78,209.09 L227.58,209.48 L227.37,209.86 L227.16,210.25 L226.96,210.63 L226.75,211.01 L226.54,211.40 L226.34,211.78 L226.13,212.17 L225.92,212.55 L225.71,212.93 L225.51,213.32 L225.30,213.70 L225.09,214.08 L224.88,214.46 L224.67,214.85 L224.46,215.23 L224.25,215.61 L224.04,215.99 L223.83,216.38 L223.62,216.76 L223.41,217.14 L223.20,217.52 L222.99,217.90 L222.78,218.29 L222.57,218.67 L222.35,219.05 L222.14,219.43 L221.93,219.81 L221.72,220.19 L221.51,220.57 L221.29,220.95 L221.08,221.33 L220.87,221.71 L220.65,222.10 L220.44,222.48 L220.23,222.86 L220.01,223.24 L219.80,223.61 L219.58,223.99 L219.37,224.37 L219.15,224.75 L218.94,225.13 L218.72,225.51 L218.50,225.89" fill="none" stroke="#ffa940" stroke-width="2.35" stroke-linejoin="round" stroke-linecap="round"/>
<path d="M291.86,68.09 L291.70,68.50 L291.53,68.90 L291.36,69.30 L291.20,69.70 L291.03,70.10 L290.87,70.50 L290.70,70.90 L290.53,71.30 L290.37,71.70 L290.20,72.11 L290.04,72.51 L289.87,72.91 L289.70,73.31 L289.54,73.71 L289.37,74.11 L289.20,74.51 L289.04,74.91 L288.87,75.32 L288.71,75.72 L288.54,76.12 L288.37,76.52 L288.21,76.92 L288.04,77.32 L287.88,77.72 L287.71,78.13 L287.54,78.53 L287.38,78.93 L287.21,79.33 L287.04,79.73 L286.88,80.13 L286.71,80.54 L286.54,80.94 L286.38,81.34 L286.21,81.74 L286.04,82.14 L285.88,82.54 L285.71,82.95 L285.54,83.35 L285.38,83.75 L285.21,84.15 L285.04,84.55 L284.88,84.95 L284.71,85.36 L284.54,85.76 L284.38,86.16 L284.21,86.56 L284.04,86.96 L283.88,87.36 L283.71,87.77 L283.54,88.17 L283.38,88.57 L283.21,88.97 L283.04,89.37 L282.87,89.78 L282.71,90.18 L282.54,90.58 L282.37,90.98 L282.21,91.38 L282.04,91.79 L281.87,92.19 L281.70,92.59 L281.54,92.99 L281.37,93.39 L281.20,93.80 L281.03,94.20 L280.87,94.60 L280.70,95.00 L280.53,95.40 L280.36,95.80 L280.19,96.21 L280.03,96.61 L279.86,97.01 L279.69,97.41 L279.52,97.81 L279.35,98.22 L279.19,98.62 L279.02,99.02 L278.85,99.42 L278.68,99.82 L278.51,100.23 L278.34,100.63 L278.18,101.03 L278.01,101.43 L277.84,101.83 L277.67,102.23 L277.50,102.64 L277.33,103.04 L277.16,103.44 L277.00,103.84 L276.83,104.24 L276.66,104.65 L276.49,105.05 L276.32,105.45 L276.15,105.85 L275.98,106.25 L275.81,106.65 L275.64,107.06 L275.47,107.46 L275.30,107.86 L275.13,108.26 L274.96,108.66 L274.79,109.07 L274.62,109.47 L274.45,109.87 L274.28,110.27 L274.11,110.67 L273.94,111.07 L273.77,111.47 L273.60,111.88 L273.43,112.28 L273.26,112.68 L273.09,113.08 L272.92,113.48 L272.75,113.88 L272.58,114.29 L272.41,114.69 L272.24,115.09 L272.07,115.49 L271.90,115.89 L271.73,116.29 L271.56,116.69 L271.39,117.10 L271.21,117.50 L271.04,117.90 L270.87,118.30 L270.70,118.70 L270.53,119.10 L270.36,119.50 L270.19,119.90 L270.01,120.30 L269.84,120.71 L269.67,121.11 L269.50,121.51 L269.33,121.91 L269.15,122.31 L268.98,122.71 L268.81,123.11 L268.64,123.51 L268.46,123.91 L268.29,124.31 L268.12,124.72 L267.94,125.12 L267.77,125.52 L267.60,125.92 L267.43,126.32 L267.25,126.72 L267.08,127.12 L266.91,127.52 L266.73,127.92 L266.56,128.32 L266.38,128.72 L266.21,129.12 L266.04,129.52 L265.86,129.92 L265.69,130.32 L265.52,130.72 L265.34,131.12 L265.17,131.52 L264.99,131.92 L264.82,132.32 L264.64,132.72 L264.47,133.12 L264.29,133.52 L264.12,133.92 L263.94,134.32 L263.77,134.72 L263.59,135.12 L263.42,135.52 L263.24,135.92 L263.07,136.32 L262.89,136.72 L262.71,137.12 L262.54,137.52 L262.36,137.92 L262.19,138.32 L262.01,138.72 L261.83,139.12 L261.66,139.52 L261.48,139.92 L261.30,140.32 L261.13,140.72 L260.95,141.12 L260.77,141.52 L260.59,141.92 L260.42,142.31 L260.24,142.71 L260.06,143.11 L259.88,143.51 L259.71,143.91 L259.53,144.31 L259.35,144.71 L259.17,145.11 L258.99,145.51 L258.82,145.90 L258.64,146.30 L258.46,146.70 L258.28,147.10 L258.10,147.50 L257.92,147.90 L257.74,148.29 L257.56,148.69 L257.38,149.09 L257.21,149.49 L257.03,149.89 L256.85,150.28 L256.67,150.68 L256.49,151.08 L256.31,151.48 L256.13,151.88 L255.94,152.27 L255.76,152.67 L255.58,153.07 L255.40,153.47 L255.22,153.86 L255.04,154.26 L254.86,154.66 L254.68,155.06 L254.50,155.45 L254.32,155.85 L254.13,156.25 L253.95,156.64 L253.77,157.04 L253.59,157.44 L253.40,157.84 L253.22,158.23 L253.04,158.63 L252.86,159.03 L252.67,159.42 L252.49,159.82 L252.31,160.21 L252.12,160.61 L251.94,161.01 L251.76,161.40 L251.57,161.80 L251.39,162.20 L251.21,162.59 L251.02,162.99 L250.84,163.38 L250.65,163.78 L250.47,164.18 L250.28,164.57 L250.10,164.97 L249.91,165.36 L249.73,165.76 L249.54,166.15 L249.36,166.55 L249.17,166.94 L248.99,167.34 L248.80,167.73 L248.61,168.13 L248.43,168.52 L248.24,168.92 L248.05,169.31 L247.87,169.71 L247.68,170.10 L247.49,170.50 L247.31,170.89 L247.12,171.29 L246.93,171.68 L246.74,172.07 L246.55,172.47 L246.37,172.86 L246.18,173.26 L245.99,173.65 L245.80,174.04 L245.61,174.44 L245.42,174.83 L245.23,175.22 L245.05,175.62 L244.86,176.01 L244.67,176.40 L244.48,176.80 L244.29,177.19 L244.10,177.58 L243.91,177.98 L243.72,178.37 L243.53,178.76 L243.34,179.16 L243.14,179.55 L242.95,179.94 L242.76,180.33 L242.57,180.72 L242.38,181.12 L242.19,181.51 L241.99,181.90 L241.80,182.29 L241.61,182.69 L241.42,183.08 L241.23,183.47 L241.03,183.86 L240.84,184.25 L240.65,184.64 L240.45,185.03 L240.26,185.43 L240.07,185.82 L239.87,186.21 L239.68,186.60 L239.48,186.99 L239.29,187.38 L239.09,187.77 L238.90,188.16 L238.70,188.55 L238.51,188.94 L238.31,189.33 L238.12,189.72 L237.92,190.11 L237.73,190.50 L237.53,190.89 L237.33,191.28 L237.14,191.67 L236.94,192.06 L236.74,192.45 L236.55,192.84 L236.35,193.23 L236.15,193.62 L235.95,194.01 L235.76,194.40 L235.56,194.78 L235.36,195.17 L235.16,195.56 L234.96,195.95 L234.76,196.34 L234.56,196.73 L234.36,197.12 L234.16,197.50 L233.96,197.89 L233.76,198.28 L233.56,198.67 L233.36,199.05 L233.16,199.44 L232.96,199.83 L232.76,200.22 L232.56,200.60 L232.36,200.99 L232.16,201.38 L231.96,201.76 L231.75,202.15 L231.55,202.54 L231.35,202.92 L231.15,203.31 L230.94,203.70 L230.74,204.08 L230.54,204.47 L230.34,204.86 L230.13,205.24 L229.93,205.63 L229.72,206.01 L229.52,206.40 L229.31,206.78 L229.11,207.17 L228.91,207.55 L228.70,207.94 L228.49,208.32 L228.29,208.71 L228.08,209.09 L227.88,209.48 L227.67,209.86 L227.46,210.25 L227.26,210.63 L227.05,211.01 L226.84,211.40 L226.64,211.78 L226.43,212.17 L226.22,212.55 L226.01,212.93 L225.81,213.32 L225.60,213.70 L225.39,214.08 L225.18,214.46 L224.97,214.85 L224.76,215.23 L224.55,215.61 L224.34,215.99 L224.13,216.38 L223.92,216.76 L223.71,217.14 L223.50,217.52 L223.29,217.90 L223.08,218.29 L222.87,218.67 L222.65,219.05 L222.44,219.43 L222.23,219.81 L222.02,220.19 L221.81,220.57 L221.59,220.95 L221.38,221.33 L221.17,221.71 L220.95,222.10 L220.74,222.48 L220.53,222.86 L220.31,223.24 L220.10,223.61 L219.88,223.99 L219.67,224.37 L219.45,224.75 L219.24,225.13 L219.02,225.51 L218.80,225.89" fill="none" stroke="#ff5548" stroke-width="2.35" stroke-linejoin="round" stroke-linecap="round"/>
<path d="M293.02,68.46 L292.94,68.85 L292.86,69.25 L292.78,69.65 L292.71,70.05 L292.63,70.45 L292.55,70.85 L292.47,71.25 L292.39,71.65 L292.31,72.05 L292.24,72.45 L292.16,72.85 L292.08,73.25 L292.00,73.65 L291.92,74.04 L291.84,74.44 L291.76,74.84 L291.68,75.24 L291.60,75.64 L291.52,76.04 L291.44,76.44 L291.36,76.84 L291.28,77.24 L291.20,77.64 L291.12,78.04 L291.04,78.44 L290.96,78.84 L290.88,79.24 L290.80,79.64 L290.72,80.04 L290.64,80.44 L290.56,80.84 L290.48,81.24 L290.40,81.64 L290.32,82.04 L290.23,82.44 L290.15,82.84 L290.07,83.24 L289.99,83.64 L289.91,84.04 L289.82,84.44 L289.74,84.84 L289.66,85.24 L289.58,85.64 L289.49,86.04 L289.41,86.44 L289.33,86.84 L289.24,87.24 L289.16,87.64 L289.08,88.04 L288.99,88.44 L288.91,88.83 L288.83,89.23 L288.74,89.63 L288.66,90.03 L288.57,90.43 L288.49,90.83 L288.40,91.23 L288.32,91.63 L288.23,92.03 L288.15,92.43 L288.06,92.83 L287.98,93.23 L287.89,93.63 L287.81,94.03 L287.72,94.43 L287.64,94.83 L287.55,95.23 L287.46,95.63 L287.38,96.03 L287.29,96.43 L287.20,96.83 L287.12,97.23 L287.03,97.63 L286.94,98.03 L286.85,98.43 L286.77,98.83 L286.68,99.23 L286.59,99.63 L286.50,100.03 L286.41,100.43 L286.33,100.83 L286.24,101.23 L286.15,101.63 L286.06,102.03 L285.97,102.43 L285.88,102.83 L285.79,103.23 L285.70,103.63 L285.61,104.03 L285.52,104.43 L285.43,104.83 L285.34,105.23 L285.25,105.63 L285.16,106.03 L285.07,106.42 L284.98,106.82 L284.89,107.22 L284.80,107.62 L284.70,108.02 L284.61,108.42 L284.52,108.82 L284.43,109.22 L284.34,109.62 L284.24,110.02 L284.15,110.42 L284.06,110.82 L283.96,111.22 L283.87,111.61 L283.78,112.01 L283.68,112.41 L283.59,112.81 L283.50,113.21 L283.40,113.61 L283.31,114.01 L283.21,114.41 L283.12,114.81 L283.02,115.21 L282.93,115.60 L282.83,116.00 L282.74,116.40 L282.64,116.80 L282.54,117.20 L282.45,117.60 L282.35,118.00 L282.25,118.39 L282.16,118.79 L282.06,119.19 L281.96,119.59 L281.87,119.99 L281.77,120.39 L281.67,120.78 L281.57,121.18 L281.47,121.58 L281.38,121.98 L281.28,122.38 L281.18,122.78 L281.08,123.17 L280.98,123.57 L280.88,123.97 L280.78,124.37 L280.68,124.76 L280.58,125.16 L280.48,125.56 L280.38,125.96 L280.28,126.36 L280.18,126.75 L280.07,127.15 L279.97,127.55 L279.87,127.94 L279.77,128.34 L279.67,128.74 L279.56,129.14 L279.46,129.53 L279.36,129.93 L279.26,130.33 L279.15,130.72 L279.05,131.12 L278.94,131.52 L278.84,131.92 L278.74,132.31 L278.63,132.71 L278.53,133.11 L278.42,133.50 L278.32,133.90 L278.21,134.30 L278.10,134.69 L278.00,135.09 L277.89,135.48 L277.79,135.88 L277.68,136.28 L277.57,136.67 L277.46,137.07 L277.36,137.46 L277.25,137.86 L277.14,138.26 L277.03,138.65 L276.92,139.05 L276.82,139.44 L276.71,139.84 L276.60,140.23 L276.49,140.63 L276.38,141.02 L276.27,141.42 L276.16,141.81 L276.05,142.21 L275.94,142.60 L275.83,143.00 L275.72,143.39 L275.60,143.79 L275.49,144.18 L275.38,144.58 L275.27,144.97 L275.16,145.37 L275.04,145.76 L274.93,146.16 L274.82,146.55 L274.70,146.94 L274.59,147.34 L274.47,147.73 L274.36,148.13 L274.25,148.52 L274.13,148.91 L274.02,149.31 L273.90,149.70 L273.78,150.09 L273.67,150.49 L273.55,150.88 L273.44,151.27 L273.32,151.67 L273.20,152.06 L273.08,152.45 L272.97,152.85 L272.85,153.24 L272.73,153.63 L272.61,154.02 L272.49,154.42 L272.37,154.81 L272.26,155.20 L272.14,155.59 L272.02,155.98 L271.90,156.38 L271.78,156.77 L271.65,157.16 L271.53,157.55 L271.41,157.94 L271.29,158.34 L271.17,158.73 L271.05,159.12 L270.92,159.51 L270.80,159.90 L270.68,160.29 L270.55,160.68 L270.43,161.07 L270.31,161.46 L270.18,161.85 L270.06,162.24 L269.93,162.64 L269.81,163.03 L269.68,163.42 L269.56,163.81 L269.43,164.20 L269.31,164.59 L269.18,164.98 L269.05,165.37 L268.92,165.75 L268.80,166.14 L268.67,166.53 L268.54,166.92 L268.41,167.31 L268.28,167.70 L268.16,168.09 L268.03,168.48 L267.90,168.87 L267.77,169.26 L267.64,169.64 L267.51,170.03 L267.37,170.42 L267.24,170.81 L267.11,171.20 L266.98,171.58 L266.85,171.97 L266.72,172.36 L266.58,172.75 L266.45,173.13 L266.32,173.52 L266.18,173.91 L266.05,174.30 L265.91,174.68 L265.78,175.07 L265.64,175.46 L265.51,175.84 L265.37,176.23 L265.24,176.62 L265.10,177.00 L264.96,177.39 L264.83,177.77 L264.69,178.16 L264.55,178.54 L264.41,178.93 L264.28,179.32 L264.14,179.70 L264.00,180.09 L263.86,180.47 L263.72,180.86 L263.58,181.24 L263.44,181.62 L263.30,182.01 L263.16,182.39 L263.02,182.78 L262.87,183.16 L262.73,183.55 L262.59,183.93 L262.45,184.31 L262.30,184.70 L262.16,185.08 L262.02,185.46 L261.87,185.85 L261.73,186.23 L261.58,186.61 L261.44,186.99 L261.29,187.38 L261.15,187.76 L261.00,188.14 L260.85,188.52 L260.71,188.91 L260.56,189.29 L260.41,189.67 L260.26,190.05 L260.12,190.43 L259.97,190.81 L259.82,191.19 L259.67,191.58 L259.52,191.96 L259.37,192.34 L259.22,192.72 L259.07,193.10 L258.92,193.48 L258.77,193.86 L258.61,194.24 L258.46,194.62 L258.31,195.00 L258.16,195.38 L258.00,195.76 L257.85,196.14 L257.69,196.51 L257.54,196.89 L257.39,197.27 L257.23,197.65 L257.07,198.03 L256.92,198.41 L256.76,198.78 L256.61,199.16 L256.45,199.54 L256.29,199.92 L256.13,200.30 L255.97,200.67 L255.82,201.05 L255.66,201.43 L255.50,201.80 L255.34,202.18 L255.18,202.56 L255.02,202.93 L254.86,203.31 L254.70,203.68 L254.53,204.06 L254.37,204.44 L254.21,204.81 L254.05,205.19 L253.88,205.56 L253.72,205.94 L253.56,206.31 L253.39,206.69 L253.23,207.06 L253.06,207.43 L252.90,207.81 L252.73,208.18 L252.56,208.56 L252.40,208.93 L252.23,209.30 L252.06,209.68 L251.89,210.05 L251.73,210.42 L251.56,210.79 L251.39,211.17 L251.22,211.54 L251.05,211.91 L250.88,212.28 L250.71,212.66 L250.54,213.03 L250.36,213.40 L250.19,213.77 L250.02,214.14 L249.85,214.51 L249.67,214.88 L249.50,215.25 L249.33,215.62 L249.15,215.99 L248.98,216.36 L248.80,216.73 L248.63,217.10 L248.45,217.47 L248.27,217.84 L248.10,218.21 L247.92,218.58 L247.74,218.95 L247.56,219.32 L247.39,219.68 L247.21,220.05 L247.03,220.42 L246.85,220.79 L246.67,221.15 L246.49,221.52 L246.31,221.89 L246.12,222.26 L245.94,222.62 L245.76,222.99 L245.58,223.36 L245.39,223.72 L245.21,224.09" fill="none" stroke="#0f97bb" stroke-width="2.35" stroke-linejoin="round" stroke-linecap="round"/>
<path d="M295.9,63.10000000000001 L301.2,68.4 L295.9,73.7 L290.59999999999997,68.4 Z" fill="#ff5548" stroke="#fff" stroke-width="1.0"/>
<path d="M297.4,55.400000000000006 L302.7,60.7 L297.4,66.0 L292.09999999999997,60.7 Z" fill="#ffa940" stroke="#fff" stroke-width="1.2"/>
<path d="M299.3,68.5 L304.5,73.7 L299.3,78.9 L294.1,73.7 Z" fill="#8a2be2" stroke="#fff" stroke-width="1.2"/>
<path d="M293.2,63.0 L298.5,68.3 L293.2,73.6 L287.9,68.3 Z" fill="#0f97bb" stroke="#fff" stroke-width="1.2"/>
</svg>
<rect x="73.5" y="29.0" width="239.64999999999998" height="190.4" fill="none" stroke="#000" stroke-width="0.75"/>
<line x1="313.15" y1="124.2" x2="316.15" y2="124.2" stroke="#000" stroke-width="0.75"/>
<line x1="313.15" y1="219.4" x2="313.15" y2="222.4" stroke="#000" stroke-width="0.75"/>
<text font-family="Liberation Mono, monospace" font-size="22" fill="#000" stroke="#000" stroke-width="0.300" transform="translate(317.82,132.40) scale(0.9600,1.0900)">0.1</text>
<text font-family="Liberation Mono, monospace" font-size="22" fill="#000" stroke="#000" stroke-width="0.300" transform="translate(307.27,240.70) scale(0.9000,1.0900)">1</text>
</svg>
</body></html>
